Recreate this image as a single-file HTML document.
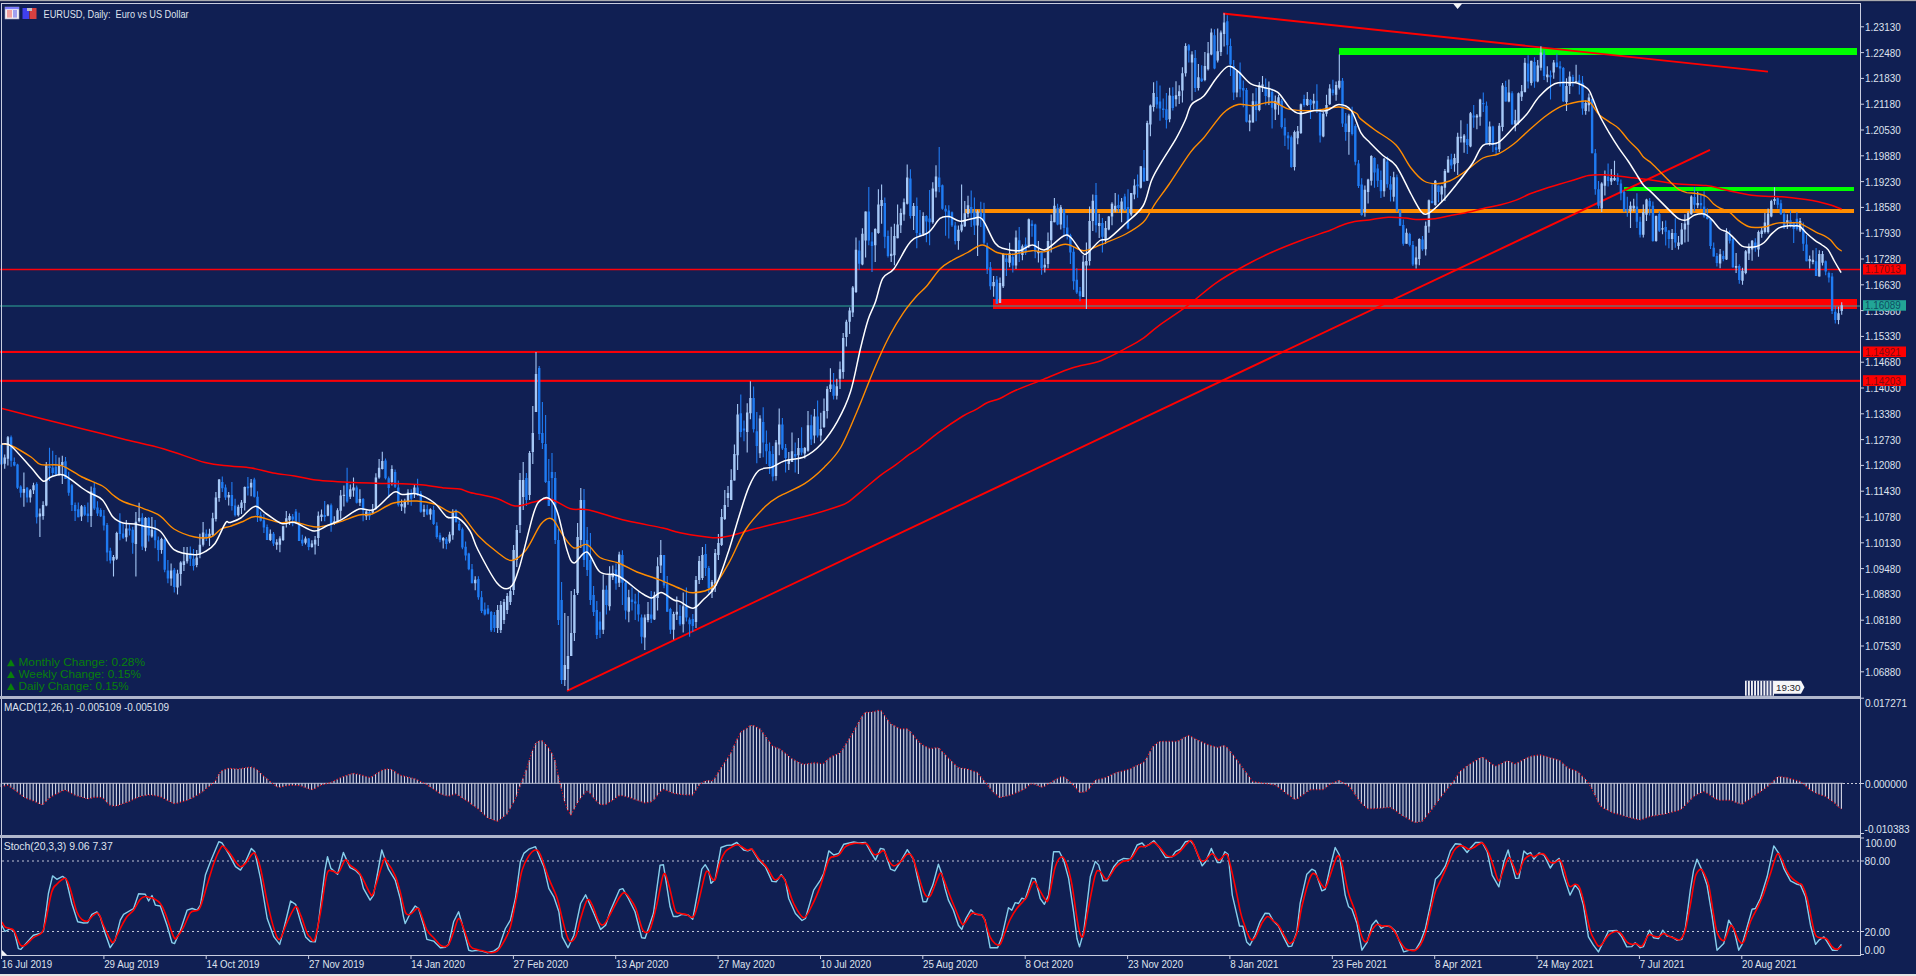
<!DOCTYPE html>
<html><head><meta charset="utf-8"><title>EURUSD, Daily</title>
<style>html,body{margin:0;padding:0;background:#101f53;overflow:hidden}svg{display:block}</style>
</head><body><svg width="1916" height="976" viewBox="0 0 1916 976"><rect width="1916" height="976" fill="#101f53"/><rect x="0" y="0" width="1916" height="1.4" fill="#a9aaae"/><rect x="0" y="1.4" width="1916" height="1.3" fill="#0c1845"/><rect x="0" y="974" width="1916" height="2" fill="#e4e4e4"/><rect x="0" y="268.75" width="1860" height="1.5" fill="#ff0008"/><rect x="0" y="350.9" width="1860" height="2.1" fill="#f80008"/><rect x="0" y="379.8" width="1860" height="2.1" fill="#f80008"/><g shape-rendering="crispEdges"><rect x="0" y="305" width="1860" height="2" fill="#1f6474"/><rect x="993" y="299.2" width="864" height="9.4" fill="#ff0000"/><rect x="993" y="305" width="864" height="2" fill="#9a5050"/><rect x="965" y="208.8" width="889" height="4" fill="#ff8c00"/><rect x="1339" y="48.2" width="518" height="6.4" fill="#00ff00"/><rect x="1624" y="186.6" width="230" height="4" fill="#00ff00"/></g><path d="M567 690.8L1710 149.8" stroke="#ff0000" stroke-width="1.9" fill="none"/><path d="M1223 13.5L1768 71.6" stroke="#ff0000" stroke-width="1.9" fill="none"/><path d="M1.5 443.5V464.4M11.1 435.5V466.8M14.3 457.6V466.2M17.5 463.7V489M20.7 485.3V497.6M27.1 487.1V502.5M36.7 482.2V523.4M49.5 447.8V481M52.7 450.8V476.7M55.9 455.1V475.4M65.5 457V479.1M68.7 471.7V495.7M71.9 484V511.1M75.1 502.5V520.9M78.3 502.5V517.3M84.7 505V516M87.9 502.5V522.2M94.3 482.8V509.9M97.5 501.3V516M100.7 508.3V516.9M103.9 510.1V530.4M107.1 523.1V561.2M110.3 547.7V563.6M119.9 513.2V540.3M123.1 523.7V539M129.5 524.3V535.4M132.7 526.7V553.8M142.3 513.2V550.1M148.7 516.9V541.5M155.1 520V548.3M158.3 536.6V561.2M164.7 538.4V572.3M167.9 560V583.3M174.3 567.9V592.5M190.3 546.4V566.1M193.5 548.9V570.4M206.3 529.4V541.1M222.3 476.5V491.9M225.5 484.5V499.9M231.9 482.1V510.4M235.1 498.7V516.5M247.9 477.1V495.6M254.3 477.8V497.4M257.5 491.3V522M260.7 511.6V521.4M263.9 514V533.1M267.1 524.5V539.9M273.5 531.9V546M292.7 514V526.3M295.9 509.1V523.9M299.1 512.7V540.9M302.3 534.8V545.9M308.7 537.9V550.2M324.7 501V521.3M331.1 503.4V531.7M347.1 467.8V502.8M356.7 485.6V503.4M363.1 497.9V521.3M369.5 510.8V520M385.5 458.5V479.4M388.7 476.4V497.9M395.1 469.6V488.1M398.3 480.5V506.6M411.2 489.2V505.7M417.6 478.7V496.1M420.8 490.9V512.7M427.2 504.8V515.3M433.6 505.7V524.9M436.8 522.3V538.8M440 532.7V542.3M446.4 537.1V549.3M456 509.2V522.3M459.2 520.5V531M462.4 527.5V549.3M465.6 541.4V560.6M468.8 552.8V570.2M472 564.1V583.2M478.4 576.3V599.8M481.6 591.1V612.9M484.8 602.4V615.5M488 605V614.6M491.2 611.1V632M494.4 612V632M526.4 473V506M539.2 366V440M542.4 402V449M545.6 415V483M548.8 459V506M552 453V520M555.2 472V544M558.4 529V625M561.6 582V684M584 489V567M587.2 527V576M590.4 533V605M593.6 586V616M596.8 601V639M600 611.8V638.1M606.4 585.5V614.6M616 563.4V589.7M622.4 550.3V604.9M625.6 581.4V619.4M632 587.6V610.4M635.2 593.8V620.1M638.4 591.8V621.5M641.6 614.6V643.6M651.2 591.1V622.9M664 555.1V588.3M667.2 575.9V611.8M670.4 607.7V633.9M680 604.9V625.7M686.4 587.6V621.5M689.6 617.4V636.7M692.8 614V632M705.6 544V576M708.8 566V593M740.8 394.6V437.2M744 420.6V441.2M753.6 386.6V432.6M756.8 411.9V463.2M763.2 407.3V457.2M766.4 430.6V463.9M769.6 442.6V473.9M772.8 445.9V481.2M782.4 417.9V449.9M785.6 443.9V472.5M795.2 442.6V472.5M801.6 427.3V455.2M811.2 414.7V445.1M817.6 400.5V437.5M833.6 373V399.5M859.2 240.6V269.8M868.8 186.9V245.2M872 232.2V272.1M884.8 197.6V248.3M888 230.6V257.5M910.4 169.2V218.4M916.8 197.6V248.3M920 209.9V236M926.4 215.3V242.2M929.6 189.9V245.2M939.2 147V192.3M942.4 184.4V209.7M945.6 205.3V235.8M948.8 205.3V238.4M952 211.4V227.1M955.2 221.9V244.5M971.2 190.5V227.1M974.4 197.5V234.9M980.8 201.8V227.1M984 202.7V244.5M987.2 242.8V274.1M990.4 262V289.8M996.8 275.9V303.8M1006.4 255V275.9M1012.8 253.2V272.4M1019.2 227.1V262M1025.6 237.6V255M1032 220.2V236.7M1035.2 223.8V258.2M1041.6 251V274.7M1057.6 203.7V225.2M1064 208.7V235.3M1067.2 215.2V239.6M1070.4 233.8V264M1073.6 246.7V289.8M1076.8 268.3V294.1M1080 286.9V301.3M1096 182.9V232.4M1102.4 218V252.5M1118.4 194.4V212.3M1124.8 193.7V210.9M1128 189.2V229.2M1137.6 174.6V197.7M1144 150V181.5M1156.8 80.8V108.5M1160 85.4V120.8M1163.2 98.5V117.7M1166.4 93.1V128.5M1172.8 87.2V110.5M1188.8 44V62.6M1195.2 49.9V91.9M1201.7 65.3V81.9M1214.5 29.3V69.3M1227.3 15.3V54.6M1230.5 38.6V75.9M1233.7 59.9V99.9M1240.1 62.6V97.2M1243.3 80.6V107.2M1246.5 87.9V122.5M1256.1 87.9V121.2M1265.7 78.6V105.2M1272.1 88.6V128.6M1281.7 99V128.6M1284.9 118.2V146M1288.1 132.1V149.5M1291.3 135.6V167.8M1304.1 94.7V106.8M1310.5 99V119M1316.9 84.2V112.9M1320.1 108.6V142.6M1332.9 79.8V95.5M1342.5 78.1V126.9M1345.7 112.9V140.8M1352.1 106.8V135.6M1355.3 124.3V165.2M1358.5 160V187.9M1361.7 178.3V215.7M1374.5 157.3V187.7M1377.7 164.2V187M1380.9 170.4V198.1M1387.3 156.6V187.7M1390.5 176V201.5M1396.9 174.6V211.9M1400.1 209.8V225.8M1403.3 219.5V245.8M1409.7 232.7V246.5M1412.9 241V265.9M1422.5 236.1V250.7M1432.1 184.3V203.6M1438.5 185.6V202.2M1451.3 153.8V169M1467.3 123.7V154.1M1473.7 105V127.8M1483.3 92.6V111.9M1486.5 101.5V143.7M1492.9 125.8V152M1496.1 142.4V154.8M1505.7 80.8V101.5M1512.1 91.2V124.4M1528.1 55.2V88.4M1534.5 57.3V87.7M1544.1 49.7V80.1M1550.5 70.4V99.5M1556.9 53.4V67.5M1560.1 61.3V86.6M1563.3 66.9V101.9M1572.9 74.8V86.6M1579.3 74.8V94.5M1582.5 75.9V114.8M1592.1 98.5V153.2M1595.3 149V194.7M1598.5 180.9V208.5M1608.1 163.6V186.4M1617.7 173.3V185M1620.9 179.5V200.2M1624.1 190.5V212M1627.3 196.8V216.8M1636.9 193.3V227.9M1640.1 216.8V237.6M1649.7 198.1V215.4M1652.9 201.6V241.7M1659.3 211.3V232M1665.7 220.6V245.4M1668.9 230.1V248.3M1675.3 218.3V247.7M1694.5 187.1V211.2M1700.9 194.1V208.9M1704.1 191.2V217.7M1707.3 208.3V219.5M1710.5 218.3V248.9M1713.7 242.4V256.6M1716.9 253V266.6M1723.3 250.7V261.3M1729.7 230.6V243.6M1732.9 237.7V267.8M1739.3 264.2V283.7M1755.3 238.3V251.8M1777.7 197.5V208.5M1780.9 199.7V215.1M1784.1 211.4V229M1790.5 210.7V227.5M1793.7 221.7V242.9M1796.9 212.1V230.5M1803.3 222.4V251M1806.5 234.9V261.2M1816.1 248V275.9M1825.7 260.5V275.2M1828.9 271.5V282.5M1832.1 273V314M1835.3 306V323.6" stroke="#1f7bf2" stroke-width="1.1" fill="none"/><path d="M4.7 454.5V468.7M7.9 436.1V465.6M23.9 472.4V506.8M30.3 489V502.5M33.5 482.8V493.9M39.9 508.6V536.9M43.1 501.3V519.7M46.3 461.9V506.2M59.1 457.6V475.4M62.3 455.8V484M81.5 505V520.9M91.1 486.5V527.1M113.5 555V576.6M116.7 531.7V560M126.3 520V541.5M135.9 512V576.6M139.1 502.8V522.4M145.5 516.9V551.3M151.9 516.9V537.8M161.5 537.8V553.8M171.1 563.6V585.8M177.5 569.8V594.4M180.7 561.2V585.8M183.9 547V571M187.1 547V563.6M196.7 550.1V567.3M199.9 533.7V558.3M203.1 522V546.6M209.5 528.8V546M212.7 512.8V536.2M215.9 491.9V521.4M219.1 479V501.7M228.7 491.9V505.4M238.3 504.8V516.5M241.5 499.9V514M244.7 486.4V510.4M251.1 479V496.2M270.3 529.4V541.1M276.7 539.3V549.7M279.9 536.2V552.2M283.1 525.7V541.1M286.3 511V527.6M289.5 513.4V525.1M305.5 536.6V544.6M311.9 540.3V547.7M315.1 536V554.5M318.3 511.4V545.9M321.5 509.6V521.3M327.9 504V516.3M334.3 516.3V525M337.5 508.3V522.5M340.7 489.9V518.8M343.9 485.6V506.5M350.3 484.4V499.1M353.5 477.6V496.7M359.9 489.3V505.9M366.3 510.2V520M372.7 504V513.9M375.9 473.3V509.6M379.1 459.1V478.8M382.3 451.8V469.6M391.9 465.3V485.6M401.6 499.6V510.9M404.8 498.7V513.6M408 489.2V504.8M414.4 483.9V497.9M424 504.8V517M430.4 508.3V519.7M443.2 537.1V548.4M449.6 531.8V543.2M452.8 509.2V539.7M475.2 576.3V590.2M497.6 605V633M500.8 601V633M504 599V624M507.2 593V614M510.4 588V605M513.6 545V595M516.8 525V567M520 473V533M523.2 462V510M529.6 451V500M532.8 406V464M536 352V412M564.8 613V686M568 616V690M571.2 591V656M574.4 589V641M577.6 523V595M580.8 488V548M603.2 574.5V633.9M609.6 566.2V610.4M612.8 565.5V580M619.2 551.7V586.9M628.8 589.7V622.2M644.8 614.6V650M648 602.1V622.2M654.4 591.8V620.1M657.6 557.2V610.4M660.8 539.9V573.1M673.6 611.8V639.5M676.8 596.6V620.1M683.2 592.5V632.6M696 576V628M699.2 556V584M702.4 547V580M712 580V598M715.2 549V592M718.4 534V560M721.6 509V546M724.8 490V520M728 486V507M731.2 469.2V500M734.4 444.6V480.5M737.6 404V469.9M747.2 403.3V452.6M750.4 381.3V419.3M760 415.3V457.9M776 439.9V480.5M779.2 408.6V455.2M788.8 451.9V469.9M792 432.6V461.9M798.4 437.9V473.9M804.8 447V458.4M808 410.9V451.7M814.4 409V443.2M820.8 412.8V441.3M824 398.6V428M827.2 386.3V418.5M830.4 368.2V392M836.8 378.7V399.5M840 361.6V389.1M843.2 333.1V378.7M846.4 319.8V346.4M849.6 307.5V334.1M852.8 285.9V317M856 237.6V292.9M862.4 228.3V265.2M865.6 211.4V257.5M875.2 228.3V262.1M878.4 189.2V233.7M881.6 184.6V223.7M891.2 226.8V262.1M894.4 223.7V265.2M897.6 204.5V238.3M900.8 208.4V232.9M904 198.4V220.7M907.2 164.6V204.5M913.6 203V229.9M923.2 212.2V236M932.8 182.3V223.7M936 165.3V197.5M958.4 225.4V249.8M961.6 184.4V232.3M964.8 201V227.1M968 195.7V217.5M977.6 209.7V255.9M993.6 275.9V296.8M1000 277.6V302.9M1003.2 253.2V288.1M1009.6 242.8V267.2M1016 230.6V268.9M1022.4 244.5V260.2M1028.8 218.4V248M1038.4 241V262.5M1044.8 258.2V272.6M1048 232.4V268.3M1051.2 214.5V252.5M1054.4 198V222.3M1060.8 205.1V229.5M1083.2 255.3V297M1086.4 242.4V309.1M1089.6 206.6V265.4M1092.8 194.4V231M1099.2 213.7V238.1M1105.6 220.9V243.9M1108.8 215.9V230.2M1112 202.3V225.2M1115.2 192.9V212.3M1121.6 198V222.3M1131.2 193.1V216.2M1134.4 179.2V199.2M1140.8 166.2V188.5M1147.2 120.8V180.8M1150.4 104.6V136.2M1153.6 82.3V111.5M1169.6 87.7V122.3M1176 81.2V106.5M1179.2 85.2V103.9M1182.4 67.3V102.5M1185.6 43.3V76.6M1192 51.3V100.5M1198.4 63.9V90.6M1204.9 51.9V81.2M1208.1 42V70.6M1211.3 28.6V55.3M1217.7 28.6V62.6M1220.9 30.6V55.9M1224.1 13.3V46.6M1236.9 69.9V97.2M1249.7 114.5V131.2M1252.9 93.2V122.5M1259.3 81.9V111.2M1262.5 75.9V91.9M1268.9 81.6V105.1M1275.3 95.5V119.9M1278.5 94.7V114.7M1294.5 130.4V170.4M1297.7 126V144.3M1300.9 103.4V133.9M1307.3 92V106M1313.7 93.8V109.5M1323.3 112.1V137.3M1326.5 94.7V116.4M1329.7 84.2V105.1M1336.1 81.6V100.7M1339.3 54.6V89.4M1348.9 113.8V154.8M1364.9 185.6V216.8M1368.1 178.7V203.6M1371.3 155.2V185.6M1384.1 158V196.7M1393.7 171.8V201.5M1406.5 228.5V243.7M1416.1 246.5V268.6M1419.3 238.2V265.2M1425.7 221.6V255.5M1428.9 199.5V232.7M1435.3 180.1V205.7M1441.7 185.6V202.2M1444.9 169V200.9M1448.1 155.9V172.5M1454.5 153.8V171.8M1457.7 132.7V175M1460.9 120.2V142.4M1464.1 134.1V152.7M1470.5 111.9V147.2M1476.9 114V129.2M1480.1 98.8V125.8M1489.7 121.6V145.8M1499.3 123V152M1502.5 82.9V131.3M1508.9 79.4V102.2M1515.3 109.8V131.3M1518.5 92.6V124.4M1521.7 85V100.9M1524.9 58V92.6M1531.3 60.7V85.6M1537.7 60.1V82.2M1540.9 46.2V70.4M1547.3 66.3V82.2M1553.7 60.1V78.7M1566.5 78.2V110.9M1569.7 71.4V94M1576.1 64.7V82.1M1585.7 100.2V114.8M1588.9 93.4V111.4M1601.7 182.2V212M1604.9 170.5V195.4M1611.3 169.1V185M1614.5 160.8V180.9M1630.5 201.6V227.9M1633.7 198.8V211.3M1643.3 204.4V237.6M1646.5 198.8V221M1656.1 215.4V241.7M1662.5 221.2V234.2M1672.1 228.9V250.1M1678.5 235.9V249.5M1681.7 223V244.8M1684.9 214.2V242.4M1688.1 211.2V241.8M1691.3 195.3V214.7M1697.7 191.8V208.3M1720.1 248.9V268.3M1726.5 228.3V260.1M1736.1 253V273.1M1742.5 267.8V284.8M1745.7 250.1V274.2M1748.9 243.6V260.1M1752.1 240.1V260.7M1758.5 230.5V256.8M1761.7 227.5V237.8M1764.9 212.9V233.4M1768.1 208.5V233.4M1771.3 199.7V217.3M1774.5 187.2V204.8M1787.3 214.3V229M1800.1 218V231.9M1809.7 255.4V268.6M1812.9 250.2V264.2M1819.3 250.2V276.6M1822.5 251V265.6M1838.5 306.7V324.3M1841.7 302.3V314.8" stroke="#a6c8f6" stroke-width="1.1" fill="none"/><path d="M0.3 444.7h2.4V464.4h-2.4zM9.9 437.3h2.4V460.7h-2.4zM13.1 461.9h2.4V465.6h-2.4zM16.3 464.4h2.4V487.7h-2.4zM19.5 486.5h2.4V492.7h-2.4zM25.9 487.7h2.4V497.6h-2.4zM35.5 484h2.4V517.3h-2.4zM48.3 466.2h2.4V468.1h-2.4zM51.5 467.4h2.4V473h-2.4zM54.7 466.8h2.4V474.2h-2.4zM64.3 461.3h2.4V479.1h-2.4zM67.5 477.9h2.4V492.7h-2.4zM70.7 485.3h2.4V505h-2.4zM73.9 505h2.4V511.1h-2.4zM77.1 509.3h2.4V517.3h-2.4zM83.5 506.8h2.4V514.8h-2.4zM86.7 513.6h2.4V516h-2.4zM93.1 487.7h2.4V508.6h-2.4zM96.3 507.4h2.4V513.6h-2.4zM99.5 510.1h2.4V516.3h-2.4zM102.7 515.7h2.4V525.5h-2.4zM105.9 524.9h2.4V552.6h-2.4zM109.1 550.7h2.4V560.6h-2.4zM118.7 521.8h2.4V534.1h-2.4zM121.9 533.5h2.4V537.8h-2.4zM128.3 528.6h2.4V530.4h-2.4zM131.5 529.8h2.4V542.7h-2.4zM141.1 517.5h2.4V546.4h-2.4zM147.5 518.1h2.4V535.4h-2.4zM153.9 530.4h2.4V540.3h-2.4zM157.1 540.3h2.4V550.1h-2.4zM163.5 539.7h2.4V569.8h-2.4zM166.7 570.4h2.4V578.4h-2.4zM173.1 569.8h2.4V587h-2.4zM189.1 553.8h2.4V558.7h-2.4zM192.3 558.7h2.4V566.1h-2.4zM205.1 533.7h2.4V537.4h-2.4zM221.1 482.1h2.4V488.2h-2.4zM224.3 487.6h2.4V497.4h-2.4zM230.7 495h2.4V506h-2.4zM233.9 505.4h2.4V515.3h-2.4zM246.7 486.4h2.4V488.2h-2.4zM253.1 479.6h2.4V496.8h-2.4zM256.3 496.8h2.4V515.3h-2.4zM259.5 515.3h2.4V520.8h-2.4zM262.7 520.2h2.4V527.6h-2.4zM265.9 527h2.4V539.9h-2.4zM272.3 533.7h2.4V543.6h-2.4zM291.5 516.5h2.4V519.6h-2.4zM294.7 511.6h2.4V522.7h-2.4zM297.9 525h2.4V540.9h-2.4zM301.1 539.7h2.4V543.4h-2.4zM307.5 538.5h2.4V547.1h-2.4zM323.5 515.1h2.4V517h-2.4zM329.9 505.3h2.4V523.7h-2.4zM345.9 481.9h2.4V501.6h-2.4zM355.5 487.4h2.4V502.8h-2.4zM361.9 499.1h2.4V510.2h-2.4zM368.3 512h2.4V516.3h-2.4zM384.3 460.4h2.4V478.2h-2.4zM387.5 478.2h2.4V488.1h-2.4zM393.9 472.1h2.4V486.8h-2.4zM397.1 487.4h2.4V504.8h-2.4zM410 493.5h2.4V498.7h-2.4zM416.4 487.4h2.4V494.4h-2.4zM419.6 493.5h2.4V511.8h-2.4zM426 509.2h2.4V514.4h-2.4zM432.4 510.1h2.4V524h-2.4zM435.6 525.7h2.4V537.1h-2.4zM438.8 535.3h2.4V539.7h-2.4zM445.2 538.8h2.4V544h-2.4zM454.8 510.1h2.4V522.3h-2.4zM458 524h2.4V530.1h-2.4zM461.2 529.2h2.4V547.5h-2.4zM464.4 546.7h2.4V555.4h-2.4zM467.6 553.6h2.4V569.3h-2.4zM470.8 569.3h2.4V583.2h-2.4zM477.2 578.9h2.4V597.2h-2.4zM480.4 597.2h2.4V611.1h-2.4zM483.6 609.4h2.4V614.6h-2.4zM486.8 608.5h2.4V613.7h-2.4zM490 612h2.4V630.3h-2.4zM493.2 615h2.4V628h-2.4zM525.2 478h2.4V500h-2.4zM538 368h2.4V434h-2.4zM541.2 433h2.4V443h-2.4zM544.4 444h2.4V482h-2.4zM547.6 481h2.4V506h-2.4zM550.8 472h2.4V478h-2.4zM554 478h2.4V540h-2.4zM557.2 540h2.4V620h-2.4zM560.4 600h2.4V680h-2.4zM582.8 500h2.4V560h-2.4zM586 540h2.4V570h-2.4zM589.2 560h2.4V600h-2.4zM592.4 595h2.4V612h-2.4zM595.6 610h2.4V635h-2.4zM598.8 621.5h2.4V629.8h-2.4zM605.2 589.7h2.4V604.9h-2.4zM614.8 569.6h2.4V583.5h-2.4zM621.2 555.1h2.4V582.8h-2.4zM624.4 582.8h2.4V610.4h-2.4zM630.8 599.4h2.4V602.1h-2.4zM634 601.4h2.4V603.5h-2.4zM637.2 604.2h2.4V614.6h-2.4zM640.4 617.4h2.4V636.7h-2.4zM650 614.6h2.4V618.7h-2.4zM662.8 555.1h2.4V585.5h-2.4zM666 584.2h2.4V611.8h-2.4zM669.2 609.1h2.4V629.8h-2.4zM678.8 616h2.4V624.3h-2.4zM685.2 606.3h2.4V617.4h-2.4zM688.4 619.4h2.4V624.3h-2.4zM691.6 619h2.4V626h-2.4zM704.4 554h2.4V568h-2.4zM707.6 568h2.4V588h-2.4zM739.6 413.3h2.4V431.9h-2.4zM742.8 428.6h2.4V430.6h-2.4zM752.4 398h2.4V429.3h-2.4zM755.6 431.3h2.4V445.9h-2.4zM762 421.9h2.4V442.6h-2.4zM765.2 443.9h2.4V451.2h-2.4zM768.4 451.2h2.4V465.9h-2.4zM771.6 453.9h2.4V476.5h-2.4zM781.2 424.6h2.4V448.6h-2.4zM784.4 447.9h2.4V457.9h-2.4zM794 453.9h2.4V456.6h-2.4zM800.4 447.9h2.4V452.6h-2.4zM810 425.2h2.4V439.4h-2.4zM816.4 416.6h2.4V435.6h-2.4zM832.4 384.4h2.4V395.7h-2.4zM858 250.6h2.4V263.7h-2.4zM867.6 211.4h2.4V240.6h-2.4zM870.8 241.4h2.4V246h-2.4zM883.6 203h2.4V236.8h-2.4zM886.8 236h2.4V256h-2.4zM909.2 178.4h2.4V216.1h-2.4zM915.6 206.1h2.4V232.9h-2.4zM918.8 232.9h2.4V235.3h-2.4zM925.2 216.1h2.4V221.4h-2.4zM928.4 218.4h2.4V222.2h-2.4zM938 177.5h2.4V187h-2.4zM941.2 185.3h2.4V208.8h-2.4zM944.4 208.8h2.4V211.4h-2.4zM947.6 210.6h2.4V217.5h-2.4zM950.8 212.3h2.4V225.4h-2.4zM954 225.4h2.4V241h-2.4zM970 207.1h2.4V213.2h-2.4zM973.2 211.4h2.4V225.4h-2.4zM979.6 212.3h2.4V216.7h-2.4zM982.8 213.2h2.4V242.8h-2.4zM986 246.3h2.4V268.9h-2.4zM989.2 267.2h2.4V286.3h-2.4zM995.6 279.4h2.4V303.8h-2.4zM1005.2 258.5h2.4V262h-2.4zM1011.6 256.7h2.4V265.4h-2.4zM1018 240.2h2.4V253.2h-2.4zM1024.4 244.5h2.4V252.4h-2.4zM1030.8 223.8h2.4V225.9h-2.4zM1034 224.5h2.4V251.8h-2.4zM1040.4 251.8h2.4V268.3h-2.4zM1056.4 208h2.4V224.5h-2.4zM1062.8 209.4h2.4V228.1h-2.4zM1066 227.4h2.4V235.3h-2.4zM1069.2 235.3h2.4V252.5h-2.4zM1072.4 251.8h2.4V281.2h-2.4zM1075.6 279.7h2.4V292.6h-2.4zM1078.8 291.2h2.4V296.2h-2.4zM1094.8 195.1h2.4V225.2h-2.4zM1101.2 223.1h2.4V236.7h-2.4zM1117.2 205.1h2.4V208h-2.4zM1123.6 196.5h2.4V210.2h-2.4zM1126.8 206.9h2.4V228.5h-2.4zM1136.4 184.6h2.4V186.2h-2.4zM1142.8 167.7h2.4V181.5h-2.4zM1155.6 96.9h2.4V104.6h-2.4zM1158.8 101.5h2.4V108.5h-2.4zM1162 108.5h2.4V110h-2.4zM1165.2 109.2h2.4V120h-2.4zM1171.6 95.9h2.4V107.9h-2.4zM1187.6 45.3h2.4V50.6h-2.4zM1194 57.9h2.4V87.9h-2.4zM1200.5 78.6h2.4V81.2h-2.4zM1213.3 35.3h2.4V68.6h-2.4zM1226.1 21.3h2.4V45.3h-2.4zM1229.3 45.9h2.4V64.6h-2.4zM1232.5 65.9h2.4V92.6h-2.4zM1238.9 72.6h2.4V89.2h-2.4zM1242.1 87.9h2.4V90.6h-2.4zM1245.3 89.9h2.4V121.8h-2.4zM1254.9 101.2h2.4V109.9h-2.4zM1264.5 87.9h2.4V95.9h-2.4zM1270.9 92h2.4V107.7h-2.4zM1280.5 100.7h2.4V126.9h-2.4zM1283.7 126.9h2.4V135.6h-2.4zM1286.9 135.6h2.4V138.2h-2.4zM1290.1 137.3h2.4V167h-2.4zM1302.9 99h2.4V105.1h-2.4zM1309.3 99.9h2.4V105.1h-2.4zM1315.7 100.7h2.4V109.5h-2.4zM1318.9 112.9h2.4V135.6h-2.4zM1331.7 89.4h2.4V92.9h-2.4zM1341.3 80.7h2.4V123.4h-2.4zM1344.5 123.4h2.4V132.1h-2.4zM1350.9 112.9h2.4V133.9h-2.4zM1354.1 126h2.4V161.7h-2.4zM1357.3 163.5h2.4V186.1h-2.4zM1360.5 184.4h2.4V214.9h-2.4zM1373.3 158h2.4V172.5h-2.4zM1376.5 168.4h2.4V180.8h-2.4zM1379.7 180.1h2.4V191.2h-2.4zM1386.1 161.4h2.4V184.3h-2.4zM1389.3 184.3h2.4V189.8h-2.4zM1395.7 177.3h2.4V210.5h-2.4zM1398.9 210.5h2.4V225.8h-2.4zM1402.1 225.1h2.4V243.7h-2.4zM1408.5 234.1h2.4V245.1h-2.4zM1411.7 245.1h2.4V264.5h-2.4zM1421.3 239.6h2.4V249.3h-2.4zM1430.9 200.9h2.4V202.9h-2.4zM1437.3 185.6h2.4V191.9h-2.4zM1450.1 159.4h2.4V165.6h-2.4zM1466.1 138.9h2.4V145.1h-2.4zM1472.5 115.4h2.4V117.5h-2.4zM1482.1 102.9h2.4V104.3h-2.4zM1485.3 105.7h2.4V143.7h-2.4zM1491.7 126.4h2.4V145.1h-2.4zM1494.9 147.2h2.4V150h-2.4zM1504.5 87h2.4V101.5h-2.4zM1510.9 93.3h2.4V124.4h-2.4zM1526.9 63.5h2.4V81.5h-2.4zM1533.3 62.1h2.4V81.5h-2.4zM1542.9 53.8h2.4V76h-2.4zM1549.3 75.3h2.4V77.3h-2.4zM1555.7 62.4h2.4V66.9h-2.4zM1558.9 66.3h2.4V68.6h-2.4zM1562.1 68h2.4V101.3h-2.4zM1571.7 77.1h2.4V81h-2.4zM1578.1 80.4h2.4V82.7h-2.4zM1581.3 82.7h2.4V108.6h-2.4zM1590.9 99h2.4V153.2h-2.4zM1594.1 153.2h2.4V189.2h-2.4zM1597.3 189.2h2.4V205.8h-2.4zM1606.9 176.7h2.4V180.9h-2.4zM1616.5 177.4h2.4V181.5h-2.4zM1619.7 183.6h2.4V193.3h-2.4zM1622.9 191.9h2.4V211.3h-2.4zM1626.1 209.2h2.4V211.3h-2.4zM1635.7 206.4h2.4V221.7h-2.4zM1638.9 221.7h2.4V234.8h-2.4zM1648.5 200.9h2.4V206.4h-2.4zM1651.7 205.8h2.4V241h-2.4zM1658.1 214.1h2.4V230.7h-2.4zM1664.5 227.1h2.4V231.8h-2.4zM1667.7 230.6h2.4V238.9h-2.4zM1674.1 233h2.4V242.4h-2.4zM1693.3 197.1h2.4V204.7h-2.4zM1699.7 203h2.4V205.3h-2.4zM1702.9 206.5h2.4V216.5h-2.4zM1706.1 216.5h2.4V218.9h-2.4zM1709.3 218.9h2.4V246h-2.4zM1712.5 247.7h2.4V256.6h-2.4zM1715.7 256h2.4V263h-2.4zM1722.1 256h2.4V258.9h-2.4zM1728.5 234.2h2.4V240.7h-2.4zM1731.7 238.9h2.4V267.2h-2.4zM1738.1 266h2.4V280.1h-2.4zM1754.1 242.4h2.4V248.3h-2.4zM1776.5 198.2h2.4V204.8h-2.4zM1779.7 203.3h2.4V214.3h-2.4zM1782.9 214.3h2.4V227.5h-2.4zM1789.3 220.2h2.4V226.1h-2.4zM1792.5 222.4h2.4V229h-2.4zM1795.7 218.7h2.4V229h-2.4zM1802.1 229h2.4V243.7h-2.4zM1805.3 244.4h2.4V261.2h-2.4zM1814.9 261.2h2.4V275.9h-2.4zM1824.5 261.2h2.4V271.5h-2.4zM1827.7 273h2.4V277.4h-2.4zM1830.9 276.6h2.4V311.1h-2.4zM1834.1 311.8h2.4V319.9h-2.4z" fill="#1f7bf2"/><path d="M3.5 457.6h2.4V463.7h-2.4zM6.7 437.3h2.4V458.8h-2.4zM22.7 489h2.4V492.7h-2.4zM29.1 490.2h2.4V497.6h-2.4zM32.3 485.3h2.4V490.2h-2.4zM38.7 513.6h2.4V516.6h-2.4zM41.9 505h2.4V516h-2.4zM45.1 465.6h2.4V505.6h-2.4zM57.9 465.6h2.4V474.2h-2.4zM61.1 461.9h2.4V465.6h-2.4zM80.3 506.2h2.4V516.6h-2.4zM89.9 491.4h2.4V516h-2.4zM112.3 556.9h2.4V560.6h-2.4zM115.5 532.9h2.4V558.7h-2.4zM125.1 528.6h2.4V537.2h-2.4zM134.7 521.8h2.4V544h-2.4zM137.9 518.1h2.4V521.2h-2.4zM144.3 518.1h2.4V547.7h-2.4zM150.7 529.8h2.4V536.6h-2.4zM160.3 539h2.4V550.1h-2.4zM169.9 570.4h2.4V578.4h-2.4zM176.3 573.5h2.4V587.6h-2.4zM179.5 562.4h2.4V574.1h-2.4zM182.7 561.2h2.4V564.9h-2.4zM185.9 553.8h2.4V561.2h-2.4zM195.5 557.5h2.4V564.9h-2.4zM198.7 544.8h2.4V554.6h-2.4zM201.9 532.5h2.4V544.8h-2.4zM208.3 533.7h2.4V537.4h-2.4zM211.5 518.3h2.4V535h-2.4zM214.7 497.4h2.4V519h-2.4zM217.9 479.6h2.4V498.1h-2.4zM227.5 495h2.4V497.4h-2.4zM237.1 506.7h2.4V515.3h-2.4zM240.3 502.4h2.4V507.9h-2.4zM243.5 487h2.4V503h-2.4zM249.9 482.7h2.4V487.6h-2.4zM269.1 533.7h2.4V539.9h-2.4zM275.5 542.3h2.4V544.8h-2.4zM278.7 538.6h2.4V544.8h-2.4zM281.9 526.3h2.4V539.9h-2.4zM285.1 518.3h2.4V522h-2.4zM288.3 515.9h2.4V520.2h-2.4zM304.3 538.5h2.4V542.8h-2.4zM310.7 543.4h2.4V547.1h-2.4zM313.9 539.7h2.4V544.6h-2.4zM317.1 515.7h2.4V537.9h-2.4zM320.3 514.5h2.4V517h-2.4zM326.7 505.3h2.4V515.7h-2.4zM333.1 521.3h2.4V523.7h-2.4zM336.3 510.2h2.4V521.9h-2.4zM339.5 495.4h2.4V510.8h-2.4zM342.7 494.8h2.4V496h-2.4zM349.1 489.3h2.4V496.7h-2.4zM352.3 487.4h2.4V490.5h-2.4zM358.7 499.1h2.4V502.8h-2.4zM365.1 511.4h2.4V516.3h-2.4zM371.5 509h2.4V512.7h-2.4zM374.7 477.6h2.4V509h-2.4zM377.9 467.8h2.4V477.6h-2.4zM381.1 461h2.4V469h-2.4zM390.7 469h2.4V481.9h-2.4zM400.4 504h2.4V506.6h-2.4zM403.6 501.4h2.4V507.5h-2.4zM406.8 492.6h2.4V501.4h-2.4zM413.2 487.4h2.4V493.5h-2.4zM422.8 509.2h2.4V511.8h-2.4zM429.2 509.2h2.4V514.4h-2.4zM442 537.9h2.4V540.6h-2.4zM448.4 534.5h2.4V541.4h-2.4zM451.6 512.7h2.4V535.3h-2.4zM474 579.8h2.4V583.2h-2.4zM496.4 610h2.4V628h-2.4zM499.6 605h2.4V630h-2.4zM502.8 602h2.4V620h-2.4zM506 596h2.4V610h-2.4zM509.2 591h2.4V602h-2.4zM512.4 550h2.4V590h-2.4zM515.6 530h2.4V560h-2.4zM518.8 480h2.4V525h-2.4zM522 480h2.4V497h-2.4zM528.4 453h2.4V495h-2.4zM531.6 433h2.4V452h-2.4zM534.8 374h2.4V412h-2.4zM563.6 665h2.4V680h-2.4zM566.8 656h2.4V669h-2.4zM570 633h2.4V656h-2.4zM573.2 595h2.4V633h-2.4zM576.4 537h2.4V593h-2.4zM579.6 500h2.4V540h-2.4zM602 589.7h2.4V629.8h-2.4zM608.4 574.5h2.4V606.3h-2.4zM611.6 573.1h2.4V577.2h-2.4zM618 554.4h2.4V582.8h-2.4zM627.6 597.3h2.4V611.8h-2.4zM643.6 617.4h2.4V637.4h-2.4zM646.8 613.9h2.4V620.1h-2.4zM653.2 595.2h2.4V619.4h-2.4zM656.4 566.2h2.4V598h-2.4zM659.6 555.1h2.4V565.5h-2.4zM672.4 613.9h2.4V629.8h-2.4zM675.6 611.8h2.4V614.6h-2.4zM682 606.3h2.4V624.3h-2.4zM694.8 580h2.4V622h-2.4zM698 561h2.4V580h-2.4zM701.2 555h2.4V578h-2.4zM710.8 582h2.4V592h-2.4zM714 553h2.4V586h-2.4zM717.2 543h2.4V555h-2.4zM720.4 517h2.4V545h-2.4zM723.6 505h2.4V519h-2.4zM726.8 493h2.4V498h-2.4zM730 479.9h2.4V500h-2.4zM733.2 453.9h2.4V480.5h-2.4zM736.4 414.6h2.4V455.2h-2.4zM746 412.6h2.4V431.9h-2.4zM749.2 398h2.4V413.3h-2.4zM758.8 418.6h2.4V453.2h-2.4zM774.8 442.6h2.4V475.9h-2.4zM778 424.6h2.4V444.6h-2.4zM787.6 459.2h2.4V463.9h-2.4zM790.8 451.2h2.4V461.9h-2.4zM797.2 447.9h2.4V455.2h-2.4zM803.6 447.9h2.4V453.6h-2.4zM806.8 425.2h2.4V450.8h-2.4zM813.2 416.6h2.4V435.6h-2.4zM819.6 429h2.4V435.6h-2.4zM822.8 410.9h2.4V427.1h-2.4zM826 389.1h2.4V410.9h-2.4zM829.2 384.4h2.4V389.1h-2.4zM835.6 386.3h2.4V395.7h-2.4zM838.8 369.2h2.4V378.7h-2.4zM842 337.9h2.4V372h-2.4zM845.2 321.7h2.4V336.9h-2.4zM848.4 310.4h2.4V321.7h-2.4zM851.6 287.6h2.4V312.4h-2.4zM854.8 249.8h2.4V292.1h-2.4zM861.2 233.7h2.4V264.4h-2.4zM864.4 211.4h2.4V240.6h-2.4zM874 229.1h2.4V245.2h-2.4zM877.2 204.5h2.4V232.9h-2.4zM880.4 199.9h2.4V206.1h-2.4zM890 253.7h2.4V256h-2.4zM893.2 236h2.4V255.2h-2.4zM896.4 224.5h2.4V238.3h-2.4zM899.6 213h2.4V225.3h-2.4zM902.8 202.2h2.4V214.5h-2.4zM906 177.6h2.4V203.8h-2.4zM912.4 206.1h2.4V216.1h-2.4zM922 216.1h2.4V233.7h-2.4zM931.6 188.4h2.4V222.2h-2.4zM934.8 176.6h2.4V191.4h-2.4zM957.2 229.7h2.4V241h-2.4zM960.4 224.5h2.4V230.6h-2.4zM963.6 213.2h2.4V226.2h-2.4zM966.8 205.3h2.4V214h-2.4zM976.4 211.4h2.4V225.4h-2.4zM992.4 282h2.4V286.3h-2.4zM998.8 282.9h2.4V302.9h-2.4zM1002 254.1h2.4V286.3h-2.4zM1008.4 253.2h2.4V262.8h-2.4zM1014.8 237.6h2.4V265.4h-2.4zM1021.2 246.3h2.4V255h-2.4zM1027.6 219.3h2.4V246.3h-2.4zM1037.2 251h2.4V253.2h-2.4zM1043.6 264.7h2.4V267.5h-2.4zM1046.8 241h2.4V264h-2.4zM1050 220.9h2.4V240.3h-2.4zM1053.2 205.8h2.4V222.3h-2.4zM1059.6 207.3h2.4V224.5h-2.4zM1082 261.8h2.4V297h-2.4zM1085.2 261.1h2.4V265.4h-2.4zM1088.4 220.9h2.4V261.1h-2.4zM1091.6 200.8h2.4V220.9h-2.4zM1098 223.1h2.4V225.9h-2.4zM1104.4 228.1h2.4V240.3h-2.4zM1107.6 216.6h2.4V229.5h-2.4zM1110.8 203.7h2.4V216.6h-2.4zM1114 205.8h2.4V210.2h-2.4zM1120.4 201.5h2.4V209.4h-2.4zM1130 193.1h2.4V214.6h-2.4zM1133.2 185.4h2.4V194.6h-2.4zM1139.6 166.2h2.4V187.7h-2.4zM1146 123.1h2.4V180.8h-2.4zM1149.2 105.4h2.4V124.6h-2.4zM1152.4 93.1h2.4V106.9h-2.4zM1168.4 95.4h2.4V119.2h-2.4zM1174.8 95.2h2.4V99.2h-2.4zM1178 91.2h2.4V95.9h-2.4zM1181.2 73.2h2.4V90.6h-2.4zM1184.4 45.9h2.4V73.2h-2.4zM1190.8 54.6h2.4V62.6h-2.4zM1197.2 77.2h2.4V87.9h-2.4zM1203.7 65.9h2.4V79.9h-2.4zM1206.9 53.3h2.4V69.3h-2.4zM1210.1 32.6h2.4V54.6h-2.4zM1216.5 51.3h2.4V60.6h-2.4zM1219.7 32.6h2.4V51.9h-2.4zM1222.9 22.6h2.4V34h-2.4zM1235.7 70.6h2.4V92.6h-2.4zM1248.5 120.5h2.4V122.5h-2.4zM1251.7 101.2h2.4V122.5h-2.4zM1258.1 85.2h2.4V109.9h-2.4zM1261.3 84.6h2.4V86.6h-2.4zM1267.7 88.6h2.4V97.3h-2.4zM1274.1 100.7h2.4V109.5h-2.4zM1277.3 97.3h2.4V105.1h-2.4zM1293.3 132.1h2.4V167h-2.4zM1296.5 131.2h2.4V138.2h-2.4zM1299.7 104.2h2.4V133h-2.4zM1306.1 99h2.4V105.1h-2.4zM1312.5 100.7h2.4V103.4h-2.4zM1322.1 113.8h2.4V136.5h-2.4zM1325.3 105.1h2.4V113.8h-2.4zM1328.5 88.6h2.4V104.2h-2.4zM1334.9 85.1h2.4V94.7h-2.4zM1338.1 80.7h2.4V87.7h-2.4zM1347.7 115.6h2.4V132.1h-2.4zM1363.7 189.8h2.4V211.9h-2.4zM1366.9 179.4h2.4V191.9h-2.4zM1370.1 155.9h2.4V180.8h-2.4zM1382.9 158.7h2.4V191.2h-2.4zM1392.5 177.3h2.4V196.7h-2.4zM1405.3 232.7h2.4V243.7h-2.4zM1414.9 257.6h2.4V264.5h-2.4zM1418.1 238.9h2.4V258.9h-2.4zM1424.5 225.8h2.4V249.3h-2.4zM1427.7 200.2h2.4V226.4h-2.4zM1434.1 180.8h2.4V205h-2.4zM1440.5 186.3h2.4V194.6h-2.4zM1443.7 171.1h2.4V187.7h-2.4zM1446.9 159.4h2.4V172.5h-2.4zM1453.3 158h2.4V164.2h-2.4zM1456.5 136.8h2.4V163.1h-2.4zM1459.7 136.8h2.4V138.2h-2.4zM1462.9 135.4h2.4V142.4h-2.4zM1469.3 113.3h2.4V146.5h-2.4zM1475.7 115.4h2.4V117.5h-2.4zM1478.9 99.5h2.4V116.8h-2.4zM1488.5 126.4h2.4V142.4h-2.4zM1498.1 125.8h2.4V149.3h-2.4zM1501.3 85.6h2.4V127.1h-2.4zM1507.7 92.6h2.4V101.5h-2.4zM1514.1 120.2h2.4V124.4h-2.4zM1517.3 93.3h2.4V123h-2.4zM1520.5 91.2h2.4V96.7h-2.4zM1523.7 62.8h2.4V91.9h-2.4zM1530.1 60.7h2.4V82.9h-2.4zM1536.5 65.6h2.4V81.5h-2.4zM1539.7 52.4h2.4V67.7h-2.4zM1546.1 74.6h2.4V77.3h-2.4zM1552.5 62.4h2.4V72.5h-2.4zM1565.3 86.1h2.4V101.9h-2.4zM1568.5 76.5h2.4V86.1h-2.4zM1574.9 81h2.4V82.1h-2.4zM1584.5 103h2.4V110.9h-2.4zM1587.7 97.4h2.4V105.2h-2.4zM1600.5 183.6h2.4V208.5h-2.4zM1603.7 176h2.4V185.7h-2.4zM1610.1 178.1h2.4V181.5h-2.4zM1613.3 178.1h2.4V180.2h-2.4zM1629.3 205.8h2.4V211.3h-2.4zM1632.5 205.8h2.4V208.5h-2.4zM1642.1 212h2.4V234.8h-2.4zM1645.3 199.5h2.4V214.7h-2.4zM1654.9 216.1h2.4V241h-2.4zM1661.3 228.3h2.4V229.5h-2.4zM1670.9 233h2.4V238.9h-2.4zM1677.3 242.4h2.4V246h-2.4zM1680.5 229.5h2.4V244.2h-2.4zM1683.7 223.6h2.4V229.5h-2.4zM1686.9 213h2.4V224.8h-2.4zM1690.1 196.5h2.4V214.2h-2.4zM1696.5 203h2.4V205.3h-2.4zM1718.9 254.2h2.4V263.6h-2.4zM1725.3 232.4h2.4V259.5h-2.4zM1734.9 266h2.4V267.8h-2.4zM1741.3 270.7h2.4V280.7h-2.4zM1744.5 251.3h2.4V273.1h-2.4zM1747.7 247.7h2.4V253.6h-2.4zM1750.9 240.7h2.4V249.5h-2.4zM1757.3 231.9h2.4V249.5h-2.4zM1760.5 230.5h2.4V234.1h-2.4zM1763.7 222.4h2.4V231.9h-2.4zM1766.9 213.6h2.4V231.9h-2.4zM1770.1 201.1h2.4V216.5h-2.4zM1773.3 198.9h2.4V201.1h-2.4zM1786.1 220.2h2.4V223.1h-2.4zM1798.9 220.9h2.4V230.5h-2.4zM1808.5 259h2.4V261.2h-2.4zM1811.7 259.8h2.4V262h-2.4zM1818.1 253.9h2.4V276.6h-2.4zM1821.3 253.9h2.4V262.7h-2.4zM1837.3 313.3h2.4V319.9h-2.4zM1840.5 305.2h2.4V311.1h-2.4z" fill="#a6c8f6"/><path d="M2 408.6C8.5 410.2 27.7 415 41 418.4C54.3 421.8 68.3 425.3 82 428.7C95.7 432.1 109.3 435.6 123 439C136.7 442.4 150.3 445.1 164 449C177.7 452.9 194 459.7 205 462.5C216 465.3 222.2 465.1 230 466C237.8 466.9 244.3 466.8 251.5 468C258.7 469.2 265.8 471.7 273 473C280.2 474.3 287.4 474.8 294.6 476C301.8 477.2 308.8 479.1 316 480C323.2 480.9 330.4 481.2 337.6 481.7C344.8 482.1 351.8 482.4 359 482.7C366.2 483 373.5 483.2 380.7 483.4C387.9 483.6 394.8 483.6 402 483.8C409.2 484.1 416.5 484.2 423.7 484.9C430.9 485.6 438.9 487.3 445 488C451.1 488.7 455.8 488.3 460 489C464.2 489.7 463.8 490.8 470 492.4C476.2 494 489.5 496.2 497 498.5C504.5 500.8 508.8 505.4 515 506C521.2 506.6 528.2 503.2 534 502C539.8 500.8 543.9 497.9 550 499C556.1 500.1 564.1 507 570.6 508.8C577.1 510.6 579.8 508 589 510C598.2 512 613.7 517.6 626 520.6C638.3 523.6 653.8 526 662.8 528C671.8 530 671.7 531.2 680 532.8C688.3 534.4 704.6 537.2 712.8 537.7C721 538.2 722.7 537.4 729.2 536C735.8 534.6 743.9 531.7 752.1 529.5C760.3 527.3 768.6 525.5 778.4 523C788.2 520.5 800.8 517.7 811.1 514.8C821.4 511.9 833.5 508.1 840 505.8C846.5 503.5 845.7 503.7 849.8 500.8C853.9 497.9 859.3 492.9 864.6 488.5C869.9 484.1 876.7 478.3 881.8 474.4C886.9 470.5 890.8 468.5 895.3 465.2C899.8 461.9 904.8 457.7 908.9 454.7C913 451.7 915 451 919.9 447.3C924.8 443.6 931.2 437.8 938.4 432.6C945.6 427.4 956.9 419.8 963 416C969.1 412.2 971.2 412.1 975.3 409.8C979.4 407.6 983.5 404.4 987.6 402.5C991.7 400.6 995.4 400.4 999.9 398.5C1004.4 396.6 1007.5 394 1014.7 390.8C1022 387.6 1033.9 383.2 1043.4 379.4C1053 375.6 1062.4 371.1 1072 368C1081.6 364.9 1091.2 364.3 1100.8 360.7C1110.4 357.1 1122.3 350.2 1129.5 346.4C1136.7 342.6 1139 341.1 1143.8 337.8C1148.5 334.5 1150.8 331.6 1158 326.3C1165.2 321 1177.3 313.4 1186.9 306.2C1196.5 299 1206 290 1215.5 283.3C1225 276.6 1234.6 271.3 1244.2 266C1253.8 260.7 1263.4 256 1273 251.7C1282.6 247.4 1292 243.8 1301.6 240.2C1311.1 236.6 1323.9 232.6 1330.3 230.2C1336.7 227.8 1336 227.4 1340 226C1344 224.6 1349.7 222.6 1354.6 221.6C1359.5 220.6 1363.6 220.6 1369.2 219.9C1374.8 219.2 1382.1 217.5 1388.2 217.2C1394.3 216.9 1401.2 217.6 1405.8 218C1410.4 218.4 1411.1 219.3 1416 219.4C1420.9 219.5 1429.4 219.3 1435 218.7C1440.6 218.1 1443.5 217 1449.6 215.8C1455.7 214.6 1465.4 212.8 1471.5 211.4C1477.6 210.1 1481.2 208.8 1486.1 207.7C1491 206.6 1495.8 206 1500.7 204.8C1505.6 203.6 1510.5 202.2 1515.4 200.4C1520.3 198.6 1525.1 195.8 1530 193.8C1534.9 191.9 1539.7 190.3 1544.6 188.7C1549.5 187.1 1554.3 185.8 1559.2 184.3C1564.1 182.9 1568.9 181.4 1573.8 180C1578.7 178.6 1583.5 176.5 1588.4 175.6C1593.3 174.7 1597.7 174.7 1603 174.8C1608.3 174.9 1615 175.8 1620 176.3C1625 176.8 1627.2 177.1 1633 177.8C1638.8 178.5 1647.3 179.6 1654.5 180.6C1661.7 181.6 1667.4 183 1676 183.8C1684.6 184.6 1698.7 184.7 1706 185.5C1713.3 186.3 1715.6 187.4 1720 188.4C1724.4 189.4 1728.2 190.6 1732.3 191.5C1736.4 192.4 1740.5 193.3 1744.6 194C1748.7 194.7 1752.8 195.4 1756.9 195.8C1761 196.2 1765.1 196.2 1769.2 196.4C1773.3 196.6 1777.4 196.5 1781.5 196.8C1785.6 197.1 1789.6 197.6 1793.7 198C1797.8 198.4 1801.9 198.9 1806 199.5C1810.1 200.1 1814.2 200.8 1818.3 201.7C1822.4 202.6 1826.7 203.8 1830.6 205C1834.5 206.2 1839.8 208.4 1841.7 209.1" stroke="#ff0000" stroke-width="1.5" fill="none"/><path d="M2 444C3.7 444.3 7.2 443.8 12 446C16.8 448.2 26.2 453.9 31 457C35.8 460.1 35.9 463.2 41 464.6C46.1 466 54.7 463.5 61.5 465.6C68.3 467.7 75.2 473.6 82 477C88.8 480.4 97.3 483 102.5 486C107.7 489 109.6 492.4 113 495C116.4 497.6 117.9 499.2 123 501.5C128.1 503.8 137.3 506.2 143.5 508.6C149.7 511 154.9 512.4 160 515.8C165.1 519.2 168.2 525.5 174 529C179.8 532.5 188.5 535.7 194.7 537C200.9 538.3 206.6 538.3 211 537C215.4 535.7 217.8 530.8 221 529C224.2 527.2 226.3 527.6 230 526.4C233.7 525.1 238.7 523.1 243 521.5C247.3 519.9 249.7 516.3 255.8 516.5C261.9 516.7 273 521.6 279.5 522.5C286 523.4 288.5 521.2 294.6 522C300.7 522.8 308.8 526.9 316 527C323.2 527.1 330.4 524.5 337.6 522.5C344.8 520.5 353.3 516.4 359 515C364.7 513.6 366.2 516 372 514C377.8 512 386.1 505.2 393.6 503C401.1 500.8 410.2 500.8 417 501C423.8 501.2 429.1 502.2 434.5 504C439.9 505.8 445.2 510.5 449.5 512C453.8 513.5 455.2 509.1 460 513C464.8 516.9 471.8 528.9 478 535.4C484.2 541.9 491.4 547.8 497 552C502.6 556.2 506.8 560.8 511.6 560.5C516.4 560.2 521.1 556.1 526 550C530.9 543.9 536.7 529.2 541 524C545.3 518.8 548.3 516.9 552 518.8C555.7 520.7 559.3 530.5 563 535.4C566.7 540.3 570 546.5 574 548C578 549.5 582.7 543 587 544.6C591.3 546.2 594.8 554.4 600 557.5C605.2 560.6 612.3 560.6 618.5 563C624.7 565.4 630.2 569.2 637 572C643.8 574.8 651.8 576.9 659 579.6C666.2 582.4 674.3 586.3 680 588.5C685.7 590.7 687.6 593.1 693.1 592.8C698.6 592.5 706.8 592 712.8 586.9C718.8 581.8 723.7 571.9 729.2 562.3C734.7 552.7 739.6 538.8 745.6 529.5C751.6 520.2 759.7 512.1 765.2 506.6C770.7 501.1 771.8 500.5 778.4 496.7C785 492.9 797 488.5 804.6 483.6C812.2 478.7 818.3 473.2 824.3 467.2C830.3 461.2 835.2 456.8 840.7 447.5C846.2 438.2 852.1 423 857 411.5C861.9 400 866.4 388 870.2 378.7C874 369.4 876.7 363 880 355.7C883.3 348.4 886.2 342.1 890 335C893.8 327.9 898.7 319.8 903 313.4C907.3 307 912 301.4 916 296.8C920 292.2 923 290.3 927 285.7C931 281.1 935.7 273.3 940 269C944.3 264.7 948.2 262.8 952.8 260C957.4 257.2 962.7 255 967.6 252.5C972.5 250 977.4 245 982.3 245C987.2 245 992.1 250.9 997 252.5C1001.9 254.1 1006 254.7 1011.8 254.4C1017.6 254.1 1026.5 251.2 1032 250.7C1037.5 250.2 1039.5 252.7 1045 251.6C1050.5 250.5 1058.8 244.3 1065.3 244.2C1071.8 244 1078 250.6 1083.8 250.7C1089.6 250.8 1096.6 246.2 1100 245C1103.4 243.8 1100 245.1 1104.3 243.3C1108.6 241.5 1119.3 237.5 1125.8 234C1132.2 230.5 1138.9 226.2 1143 222.5C1147.1 218.8 1148 215.2 1150.2 211.8C1152.4 208.5 1152.9 207 1156 202.4C1159.1 197.8 1163.2 192.8 1168.9 184.5C1174.6 176.2 1184.6 160.1 1190.4 152.3C1196.2 144.5 1198.3 144.2 1203.8 137.7C1209.3 131.1 1217.7 118.5 1223.4 113C1229.1 107.5 1233.1 105.7 1238 104.5C1242.9 103.3 1247.2 106.1 1253 105.7C1258.8 105.3 1266.4 101.4 1272.6 102C1278.8 102.6 1283 108 1290 109.4C1297 110.8 1306.2 111 1314.4 110.6C1322.6 110.2 1332.1 106.6 1339 107C1345.9 107.4 1352.5 111.1 1356 113C1359.5 114.9 1356.8 115.6 1360 118.4C1363.2 121.2 1369 125.6 1375 130C1381 134.4 1390 138.7 1396 145C1402 151.3 1406.3 162 1411 168C1415.7 174 1419.7 178.4 1424 181C1428.3 183.6 1432.5 183.7 1436.8 183.7C1441.1 183.7 1445.3 182.7 1449.6 181C1453.9 179.3 1456.9 177.2 1462.5 173.4C1468.1 169.6 1477.1 161.2 1483 158C1488.9 154.8 1492.9 156.3 1498 154C1503.1 151.7 1509 147.6 1513.7 144C1518.5 140.4 1521.4 137 1526.5 132.5C1531.6 128 1538.8 121.3 1544.4 117C1550 112.7 1555.7 109 1560 106.8C1564.3 104.6 1566.7 104.5 1570 103.6C1573.3 102.7 1576.5 101.8 1579.7 101.5C1583 101.2 1586.2 99.9 1589.5 102.1C1592.8 104.3 1596 111.5 1599.2 114.8C1602.4 118 1605.7 119.3 1608.9 121.6C1612.2 123.9 1615.5 125.3 1618.7 128.4C1622 131.5 1625.2 136.5 1628.4 140.1C1631.6 143.7 1635.5 146.9 1638.1 149.8C1640.7 152.7 1641.7 155.3 1644 157.6C1646.3 159.9 1648.9 160.8 1651.8 163.4C1654.7 166 1658.3 169.9 1661.5 173.2C1664.7 176.4 1668.3 180.2 1671.2 182.9C1674.1 185.7 1676.4 188.1 1679 189.7C1681.6 191.3 1683.9 191.9 1686.8 192.6C1689.7 193.2 1693.2 192.9 1696.5 193.6C1699.8 194.2 1703.4 194.7 1706.3 196.5C1709.2 198.3 1711.7 202.4 1714 204.3C1716.3 206.2 1717.4 206.8 1720 208.1C1722.6 209.4 1726.7 210.3 1729.8 212.4C1732.9 214.5 1735.3 218.1 1738.4 220.4C1741.5 222.8 1745.2 225.3 1748.3 226.5C1751.4 227.7 1754 227.4 1756.9 227.5C1759.8 227.6 1763 227.3 1765.5 226.8C1768 226.3 1769.3 225.3 1771.6 224.7C1773.8 224 1776.1 223.2 1779 222.9C1781.9 222.6 1785.5 222.9 1788.8 222.9C1792.1 222.9 1795.8 222.3 1798.7 222.9C1801.6 223.5 1803.1 225 1806 226.5C1808.9 228 1812.8 230.5 1815.9 232.1C1819 233.7 1822 234.5 1824.5 235.8C1827 237.1 1828.5 238.2 1830.6 240.1C1832.6 242 1834.9 245.6 1836.8 247.4C1838.7 249.2 1840.9 250.5 1841.7 251.1" stroke="#ff8c00" stroke-width="1.4" fill="none"/><path d="M2 444C3.5 444.3 6.2 442.1 11 446C15.8 449.9 25.7 461.8 31 467.6C36.3 473.4 39.7 479.4 43 481C46.3 482.6 47.6 478 51 477C54.4 476 58.3 473.2 63.5 475C68.7 476.8 77.6 485 82 488C86.4 491 86.6 491 90 493C93.4 495 98.7 496 102.5 500C106.3 504 109.6 513.2 113 517C116.4 520.8 119.3 521.8 123 523C126.7 524.2 131.6 523.5 135 524C138.4 524.5 139.3 524.8 143.5 526C147.7 527.2 154.9 527.1 160 531C165.1 534.9 168.2 545.6 174 549.6C179.8 553.6 189.5 554.4 194.7 554.7C199.9 555.1 201.6 553.6 205 551.7C208.4 549.8 211.6 548.3 215 543.5C218.4 538.7 223 526.5 225.5 523C228 519.5 227.4 523.3 230 522.5C232.6 521.7 236.7 520.7 240.8 518C244.9 515.3 250.5 507.1 254.8 506.4C259.1 505.7 262.1 511.1 266.6 514C271.1 516.9 277 522.2 281.7 523.6C286.4 525 289.2 521.3 294.6 522.5C300 523.7 308.6 530.5 314 531C319.4 531.5 322.2 527.8 326.9 525.8C331.6 523.8 336.6 522.1 342 519.3C347.4 516.5 353.7 510.6 359 509C364.3 507.4 368.2 512.4 374 509.6C379.8 506.8 388.9 494.9 393.6 492.4C398.3 489.9 398.1 494.3 402 494.6C405.9 494.9 411.6 492.6 417 494C422.4 495.4 429.5 499.2 434.5 503C439.5 506.8 443.1 514.5 447 517C450.9 519.5 454.2 515.7 458 518C461.8 520.3 466.7 525.7 470 531C473.3 536.3 473.5 541.3 478 550C482.5 558.7 491.7 576.7 497 583C502.3 589.3 506.1 590.1 509.8 587.7C513.5 585.3 515 581.1 519 568.6C523 556.1 530 524.4 533.7 513C537.4 501.6 538.3 502.3 541 500C543.7 497.7 547.2 496.8 550 499C552.8 501.2 554.9 504.5 557.7 513C560.5 521.5 564.3 541.7 567 550C569.7 558.3 570.7 562.7 574 563C577.3 563.3 582.7 550.5 587 552C591.3 553.5 594.8 568 600 572C605.2 576 611.7 572.6 618.5 576C625.3 579.4 635.1 588.8 640.6 592.5C646.1 596.2 648.3 598 651.7 598C655.1 598 657.3 592.2 661 592.5C664.7 592.8 670.6 598.5 673.8 600C677 601.5 676.8 600.2 680 601.6C683.2 603 689.3 608.5 693.1 608.2C696.9 607.9 699.2 603.8 703 600C706.8 596.2 711.6 593.7 716 585.2C720.4 576.7 725.4 560.7 729.2 549.2C733 537.7 735.7 526.8 739 516.4C742.3 506 745.6 494.5 748.9 486.9C752.2 479.2 754.9 473.8 758.7 470.5C762.5 467.2 767.4 468.8 771.8 467.2C776.2 465.6 779.4 462.4 784.9 460.7C790.4 458.9 798.6 459.4 804.6 456.7C810.6 454 815.5 450.2 821 444.3C826.5 438.4 832.5 430.1 837.4 421.3C842.3 412.6 846.7 403.8 850.5 391.8C854.3 379.8 857.4 361.2 860.3 349.2C863.2 337.2 865.5 327.8 868 320C870.5 312.2 872.8 309.2 875.3 302.3C877.8 295.4 879.6 283.9 882.7 278.3C885.8 272.8 889.8 274.2 893.8 269C897.8 263.8 903.3 252.1 906.7 247C910.1 241.9 910.3 241.2 914 238.7C917.7 236.2 924.5 235.6 928.8 232.2C933.1 228.8 936.6 221 940 218.4C943.4 215.8 945.6 216.1 949 216.6C952.4 217.1 956.2 220.9 960.2 221.2C964.2 221.5 969.3 218.7 973 218.4C976.7 218.1 978.6 215.2 982.3 219.3C986 223.5 991.5 238.4 995.2 243.3C998.9 248.2 1000.5 247.6 1004.5 248.8C1008.5 250 1014.6 251.3 1019.2 250.7C1023.8 250.1 1027.7 245.2 1032 245.1C1036.3 244.9 1039.8 251.3 1045 249.8C1050.2 248.3 1059.2 238 1063.5 236C1067.8 234 1067.9 235.1 1071 237.8C1074.1 240.6 1079.2 250 1082 252.5C1084.8 255 1084.5 254.9 1087.5 252.9C1090.5 250.9 1096.5 242.9 1100 240.5C1103.5 238.1 1104.3 241.5 1108.6 238.6C1112.9 235.7 1120.1 228.6 1125.8 223.2C1131.5 217.8 1138.7 213.2 1143 206C1147.3 198.8 1148.5 187.6 1151.6 180.2C1154.7 172.8 1157.6 168.5 1161.7 161.6C1165.8 154.7 1172.1 145.5 1176 138.6C1179.9 131.7 1182.7 125.7 1185.3 120C1187.9 114.3 1188.4 108.5 1191.5 104.5C1194.6 100.5 1199.7 100.3 1203.8 96C1207.9 91.7 1212 83.6 1216 78.7C1220 73.8 1224.3 67.6 1228 66.4C1231.7 65.2 1234.2 68.4 1238 71.3C1241.8 74.2 1246.4 80.9 1250.5 83.6C1254.6 86.3 1258.3 85.9 1262.8 87.3C1267.3 88.7 1273 88.8 1277.5 92.2C1282 95.7 1286.3 104.4 1290 108C1293.7 111.6 1295.6 113.2 1299.7 113.6C1303.8 114 1309.9 111.1 1314.4 110.6C1318.9 110.1 1322.6 111.6 1326.7 110.6C1330.8 109.6 1334.9 104.5 1339 104.5C1343.1 104.5 1347.6 105.9 1351.3 110.6C1355 115.3 1357.9 127.5 1361 132.8C1364.1 138.2 1366.3 138.9 1370 142.7C1373.7 146.5 1378.7 151.7 1383 155.5C1387.3 159.3 1391.3 159.4 1396 165.8C1400.7 172.2 1406.8 186.3 1411 194C1415.2 201.7 1418.5 208.7 1421.5 211.9C1424.5 215.1 1425.6 214.7 1429 213C1432.4 211.3 1437.3 206.5 1442 201.6C1446.7 196.7 1451.9 190.1 1457 183.7C1462.1 177.3 1468.4 169.4 1472.7 163C1477 156.6 1478.8 148.7 1483 145.3C1487.2 141.9 1492.9 145.7 1498 142.7C1503.1 139.7 1509 132 1513.7 127.3C1518.5 122.6 1522.2 119.6 1526.5 114.5C1530.8 109.4 1534.6 101.7 1539.3 96.6C1544 91.5 1549.6 86.1 1554.7 83.8C1559.8 81.5 1566.2 82.8 1570 82.7C1573.8 82.6 1574.9 82.2 1577.8 83.2C1580.7 84.2 1585.2 86.5 1587.5 88.5C1589.8 90.5 1589.5 90.9 1591.4 95.3C1593.4 99.7 1596.3 108.6 1599.2 114.8C1602.1 121 1605.7 126.8 1608.9 132.3C1612.2 137.8 1615.5 143 1618.7 147.9C1622 152.8 1625.2 156.7 1628.4 161.5C1631.6 166.3 1635.5 172.9 1638.1 177C1640.7 181.1 1641.7 183.2 1644 185.8C1646.3 188.4 1648.9 189.8 1651.8 192.6C1654.7 195.4 1658.3 199.2 1661.5 202.4C1664.7 205.7 1668.3 209.3 1671.2 212.1C1674.1 214.8 1676.4 217.6 1679 218.9C1681.6 220.2 1684.2 220.6 1686.8 219.9C1689.4 219.2 1691.7 216 1694.6 215C1697.5 214 1701.4 213.2 1704.3 214C1707.2 214.8 1709.5 217.4 1712.1 219.9C1714.7 222.4 1717.5 227 1720 229C1722.5 231 1725 230.5 1727.4 232.1C1729.9 233.7 1732.2 236.5 1734.7 238.8C1737.2 241.2 1739.6 244.8 1742.1 246.2C1744.6 247.6 1747 247.2 1749.5 247.2C1752 247.2 1754.5 247.2 1756.9 246.4C1759.4 245.6 1761.8 244.6 1764.2 242.5C1766.7 240.4 1769.1 236.3 1771.6 233.9C1774.1 231.5 1776.5 229.1 1779 227.8C1781.5 226.5 1784 226.2 1786.4 225.9C1788.9 225.6 1791.5 225.8 1793.7 225.9C1796 226 1797.9 225.4 1799.9 226.5C1802 227.6 1803.5 230.4 1806 232.7C1808.5 235 1811.9 238 1814.6 240.1C1817.3 242.2 1819.7 243.4 1822 245C1824.3 246.6 1826.2 247.2 1828.2 249.9C1830.2 252.6 1832.2 257.2 1834.3 261C1836.4 264.8 1840 270.7 1841.1 272.6" stroke="#ffffff" stroke-width="1.5" fill="none"/><path d="M2 783.3H1843" stroke="#b9bdd2" stroke-width="1" fill="none"/><path d="M1.2 783.3V787M4.4 783.3V786.1M7.6 783.3V785.3M10.8 783.3V787.4M14 783.3V789.5M17.2 783.3V791.9M20.4 783.3V794.4M23.6 783.3V796.9M26.8 783.3V798.5M30 783.3V799.7M33.2 783.3V800.9M36.4 783.3V802.3M39.6 783.3V803.9M42.8 783.3V804.7M46 783.3V801.4M49.2 783.3V798.2M52.4 783.3V796.3M55.6 783.3V794.5M58.8 783.3V792.8M62 783.3V791.1M65.2 783.3V790M68.4 783.3V791.7M71.6 783.3V793.5M74.8 783.3V795.2M78 783.3V796.2M81.2 783.3V797.1M84.4 783.3V798.1M87.6 783.3V798.9M90.8 783.3V798.2M94 783.3V797.4M97.2 783.3V797.4M100.4 783.3V797.6M103.6 783.3V798.9M106.8 783.3V802.2M110 783.3V805.3M113.2 783.3V806.1M116.4 783.3V805.9M119.6 783.3V804.9M122.8 783.3V803.8M126 783.3V802.7M129.2 783.3V801.7M132.4 783.3V800.1M135.6 783.3V798.5M138.8 783.3V796.9M142 783.3V796.1M145.2 783.3V795.5M148.4 783.3V794.9M151.6 783.3V795M154.8 783.3V795.6M158 783.3V796.2M161.2 783.3V797.3M164.4 783.3V798.9M167.6 783.3V800.5M170.8 783.3V802.1M174 783.3V803.7M177.2 783.3V803.3M180.4 783.3V802.3M183.6 783.3V801.4M186.8 783.3V800.5M190 783.3V799M193.2 783.3V797.4M196.4 783.3V795.8M199.6 783.3V793.8M202.8 783.3V791.4M206 783.3V789M209.2 783.3V786.4M212.4 783.3V783.7M215.6 783.3V780.3M218.8 783.3V773.9M222 783.3V770.6M225.2 783.3V769.2M228.4 783.3V768.2M231.6 783.3V768.5M234.8 783.3V768.8M238 783.3V769M241.2 783.3V768.5M244.4 783.3V767.9M247.6 783.3V767.4M250.8 783.3V767M254 783.3V767.7M257.2 783.3V770M260.4 783.3V773M263.6 783.3V776M266.8 783.3V778.6M270 783.3V781.3M273.2 783.3V783.9M276.4 783.3V786.6M279.6 783.3V787.3M282.8 783.3V786.7M286 783.3V786M289.2 783.3V785.4M292.4 783.3V785.3M295.6 783.3V785.5M298.8 783.3V785.6M302 783.3V786.3M305.2 783.3V787.5M308.4 783.3V788.7M311.6 783.3V789.8M314.8 783.3V788.8M318 783.3V786.7M321.2 783.3V785M324.4 783.3V784.2M327.6 783.3V783.4M330.8 783.3V782.5M334 783.3V780.9M337.2 783.3V779.3M340.4 783.3V777.7M343.6 783.3V776.5M346.8 783.3V775.4M350 783.3V774.2M353.2 783.3V773.3M356.4 783.3V773.9M359.6 783.3V774.5M362.8 783.3V775.4M366 783.3V776.4M369.2 783.3V777.4M372.4 783.3V776.4M375.6 783.3V774.2M378.8 783.3V772.1M382 783.3V770M385.2 783.3V769.3M388.4 783.3V769M391.6 783.3V769.6M394.8 783.3V771.6M398 783.3V773.7M401.2 783.3V775.4M404.5 783.3V776.2M407.7 783.3V777M410.9 783.3V777.8M414.1 783.3V778.5M417.3 783.3V779.8M420.5 783.3V781.4M423.7 783.3V782.9M426.9 783.3V784.7M430.1 783.3V786.9M433.3 783.3V789.1M436.5 783.3V791.2M439.7 783.3V793.4M442.9 783.3V794.8M446.1 783.3V795.8M449.3 783.3V796.1M452.5 783.3V795.1M455.7 783.3V794M458.9 783.3V796M462.1 783.3V797.9M465.3 783.3V799.9M468.5 783.3V802.1M471.7 783.3V804.4M474.9 783.3V806.6M478.1 783.3V808.9M481.3 783.3V812M484.5 783.3V815.1M487.7 783.3V817.9M490.9 783.3V819.1M494.1 783.3V820.3M497.3 783.3V821.5M500.5 783.3V819.1M503.7 783.3V816.7M506.9 783.3V814.3M510.1 783.3V808.8M513.3 783.3V802.8M516.5 783.3V796.4M519.7 783.3V787.1M522.9 783.3V778.4M526.1 783.3V770M529.3 783.3V760.3M532.5 783.3V750.6M535.7 783.3V743.2M538.9 783.3V741.1M542.1 783.3V740.6M545.3 783.3V744.1M548.5 783.3V747.6M551.7 783.3V753.1M554.9 783.3V760M558.1 783.3V774.7M561.3 783.3V788.6M564.5 783.3V801.3M567.7 783.3V810.1M570.9 783.3V814.9M574.1 783.3V809.3M577.3 783.3V803M580.5 783.3V798.2M583.7 783.3V794.5M586.9 783.3V790.8M590.1 783.3V793.5M593.3 783.3V797.4M596.5 783.3V801.3M599.7 783.3V804.2M602.9 783.3V804.8M606.1 783.3V804.4M609.3 783.3V802.3M612.5 783.3V800.2M615.7 783.3V798.1M618.9 783.3V795.9M622.1 783.3V795.7M625.3 783.3V796.5M628.5 783.3V797.3M631.7 783.3V798.3M634.9 783.3V799.5M638.1 783.3V800.7M641.3 783.3V801.8M644.5 783.3V803M647.7 783.3V802.6M650.9 783.3V801.9M654.1 783.3V799.5M657.3 783.3V795.6M660.5 783.3V791.6M663.7 783.3V789.5M666.9 783.3V790.8M670.1 783.3V792.1M673.3 783.3V793.3M676.5 783.3V793.8M679.7 783.3V794.3M682.9 783.3V794.7M686.1 783.3V794.9M689.3 783.3V795M692.5 783.3V795.2M695.7 783.3V790.5M698.9 783.3V785.7M702.1 783.3V782.7M705.3 783.3V780.9M708.5 783.3V780.6M711.7 783.3V781.2M714.9 783.3V777.8M718.1 783.3V772.4M721.3 783.3V767.3M724.5 783.3V762.5M727.7 783.3V757.7M730.9 783.3V752.4M734.1 783.3V745.6M737.3 783.3V738.8M740.5 783.3V732.4M743.7 783.3V730.1M746.9 783.3V727.9M750.1 783.3V725.6M753.3 783.3V725.5M756.5 783.3V727M759.7 783.3V728.5M762.9 783.3V732.5M766.1 783.3V737M769.3 783.3V741.6M772.5 783.3V746.1M775.7 783.3V747.4M778.9 783.3V748.4M782.1 783.3V750.5M785.3 783.3V753.2M788.5 783.3V756M791.7 783.3V758.4M794.9 783.3V760.2M798.1 783.3V761.9M801.3 783.3V763.7M804.5 783.3V764.3M807.7 783.3V763.8M810.9 783.3V763.3M814.1 783.3V762.8M817.3 783.3V762.9M820.5 783.3V763.5M823.7 783.3V763.2M826.9 783.3V760.3M830.1 783.3V757.4M833.3 783.3V755.8M836.5 783.3V754.4M839.7 783.3V752.9M842.9 783.3V748.6M846.1 783.3V743.5M849.3 783.3V738.4M852.5 783.3V733.2M855.7 783.3V727.6M858.9 783.3V721.9M862.1 783.3V716.2M865.3 783.3V712.4M868.5 783.3V712.3M871.7 783.3V712.1M874.9 783.3V711.4M878.1 783.3V710.3M881.3 783.3V710.7M884.5 783.3V715.2M887.7 783.3V719.8M890.9 783.3V724M894.1 783.3V725.6M897.3 783.3V727.2M900.5 783.3V728.8M903.7 783.3V728.8M906.9 783.3V728.8M910.1 783.3V731.2M913.3 783.3V735.1M916.5 783.3V738.9M919.7 783.3V742.7M922.9 783.3V745M926.1 783.3V746.6M929.3 783.3V748.2M932.5 783.3V748.4M935.7 783.3V747.7M938.9 783.3V748M942.1 783.3V751.3M945.3 783.3V754.7M948.5 783.3V758M951.7 783.3V761.2M954.9 783.3V764.4M958.1 783.3V767.5M961.3 783.3V768.1M964.5 783.3V768.5M967.7 783.3V769.1M970.9 783.3V770.1M974.1 783.3V771.2M977.3 783.3V772.3M980.5 783.3V776.3M983.7 783.3V780.2M986.9 783.3V784.3M990.1 783.3V788.5M993.3 783.3V792.3M996.5 783.3V795M999.7 783.3V797.7M1002.9 783.3V796.9M1006.1 783.3V796.2M1009.3 783.3V795.4M1012.5 783.3V794.6M1015.7 783.3V793.1M1018.9 783.3V791.7M1022.1 783.3V790.2M1025.3 783.3V788.5M1028.5 783.3V786.1M1031.7 783.3V783.6M1034.9 783.3V784.4M1038.1 783.3V785.8M1041.3 783.3V787.2M1044.5 783.3V786.4M1047.7 783.3V784.3M1050.9 783.3V782.3M1054.1 783.3V780.4M1057.3 783.3V778.6M1060.5 783.3V776.8M1063.7 783.3V776.7M1066.9 783.3V779.1M1070.1 783.3V781.7M1073.3 783.3V785.3M1076.5 783.3V788.9M1079.7 783.3V792.5M1082.9 783.3V792.2M1086.1 783.3V791.6M1089.3 783.3V788.7M1092.5 783.3V783.9M1095.7 783.3V780M1098.9 783.3V779.2M1102.1 783.3V778.4M1105.3 783.3V777.6M1108.5 783.3V776.1M1111.7 783.3V774.7M1114.9 783.3V773.3M1118.1 783.3V772M1121.3 783.3V771.2M1124.5 783.3V770.3M1127.7 783.3V769.5M1130.9 783.3V768.4M1134.1 783.3V766.8M1137.3 783.3V765.3M1140.5 783.3V763.7M1143.7 783.3V762.1M1146.9 783.3V757.7M1150.1 783.3V751.3M1153.3 783.3V745.9M1156.5 783.3V743.7M1159.7 783.3V741.5M1162.9 783.3V741.3M1166.1 783.3V741.3M1169.3 783.3V741.3M1172.5 783.3V741.3M1175.7 783.3V741.3M1178.9 783.3V740.6M1182.1 783.3V738.8M1185.3 783.3V737M1188.5 783.3V735.3M1191.7 783.3V736.8M1194.9 783.3V738.7M1198.1 783.3V740.2M1201.4 783.3V741.7M1204.6 783.3V743.1M1207.8 783.3V744.6M1211 783.3V745.6M1214.2 783.3V746.5M1217.4 783.3V747.5M1220.6 783.3V746.6M1223.8 783.3V745.6M1227 783.3V747.3M1230.2 783.3V751.3M1233.4 783.3V755.3M1236.6 783.3V759.5M1239.8 783.3V763.8M1243 783.3V768.2M1246.2 783.3V772.6M1249.4 783.3V776.9M1252.6 783.3V781.2M1255.8 783.3V781.9M1259 783.3V782.5M1262.2 783.3V783M1265.4 783.3V783.5M1268.6 783.3V784.1M1271.8 783.3V784.6M1275 783.3V785.1M1278.2 783.3V787.3M1281.4 783.3V789.7M1284.6 783.3V792.1M1287.8 783.3V794.5M1291 783.3V796.9M1294.2 783.3V799.3M1297.4 783.3V798.8M1300.6 783.3V796.6M1303.8 783.3V794.3M1307 783.3V792.1M1310.2 783.3V789.9M1313.4 783.3V789.7M1316.6 783.3V789.7M1319.8 783.3V789.7M1323 783.3V789.6M1326.2 783.3V787.2M1329.4 783.3V784.7M1332.6 783.3V783M1335.8 783.3V781.6M1339 783.3V780.3M1342.2 783.3V782.2M1345.4 783.3V784.3M1348.6 783.3V786.4M1351.8 783.3V789.6M1355 783.3V794.4M1358.2 783.3V799.2M1361.4 783.3V803.4M1364.6 783.3V806.1M1367.8 783.3V808.8M1371 783.3V808.8M1374.2 783.3V808.6M1377.4 783.3V808.4M1380.6 783.3V808.2M1383.8 783.3V807.9M1387 783.3V807.6M1390.2 783.3V807.2M1393.4 783.3V809.3M1396.6 783.3V811.7M1399.8 783.3V814M1403 783.3V815.9M1406.2 783.3V817.8M1409.4 783.3V819.7M1412.6 783.3V821.6M1415.8 783.3V822.6M1419 783.3V822.1M1422.2 783.3V821.5M1425.4 783.3V817.6M1428.6 783.3V813.6M1431.8 783.3V809.6M1435 783.3V805.3M1438.2 783.3V800.9M1441.4 783.3V796.5M1444.6 783.3V792.5M1447.8 783.3V788.6M1451 783.3V784.8M1454.2 783.3V780.2M1457.4 783.3V775.2M1460.6 783.3V770.8M1463.8 783.3V768.4M1467 783.3V766M1470.2 783.3V763.7M1473.4 783.3V761.8M1476.6 783.3V759.9M1479.8 783.3V758M1483 783.3V756.9M1486.2 783.3V759.4M1489.4 783.3V762M1492.6 783.3V764.5M1495.8 783.3V766M1499 783.3V764.5M1502.2 783.3V763M1505.4 783.3V761.5M1508.6 783.3V761.1M1511.8 783.3V762.5M1515 783.3V763.9M1518.2 783.3V762.3M1521.4 783.3V760.7M1524.6 783.3V759.1M1527.8 783.3V757.5M1531 783.3V756.2M1534.2 783.3V755.6M1537.4 783.3V755.1M1540.6 783.3V754.8M1543.8 783.3V755.7M1547 783.3V756.7M1550.2 783.3V757.7M1553.4 783.3V758.6M1556.6 783.3V759.6M1559.8 783.3V760.5M1563 783.3V763.4M1566.2 783.3V766.4M1569.4 783.3V768.3M1572.6 783.3V769.5M1575.8 783.3V770.7M1579 783.3V772.8M1582.2 783.3V776M1585.4 783.3V779.2M1588.6 783.3V783.2M1591.8 783.3V789.1M1595 783.3V795.3M1598.2 783.3V802.3M1601.4 783.3V807.1M1604.6 783.3V808.7M1607.8 783.3V810.3M1611 783.3V811.9M1614.2 783.3V813.2M1617.4 783.3V814.1M1620.6 783.3V815.1M1623.8 783.3V816.1M1627 783.3V816.9M1630.2 783.3V817.7M1633.4 783.3V818.5M1636.6 783.3V819.3M1639.8 783.3V820.1M1643 783.3V819.2M1646.2 783.3V818M1649.4 783.3V816.8M1652.6 783.3V816.1M1655.8 783.3V815.6M1659 783.3V815M1662.2 783.3V814.5M1665.4 783.3V813.9M1668.6 783.3V813.1M1671.8 783.3V812.3M1675 783.3V811.5M1678.2 783.3V810.7M1681.4 783.3V809.1M1684.6 783.3V805.9M1687.8 783.3V802.7M1691 783.3V799.5M1694.2 783.3V796.3M1697.4 783.3V794.3M1700.6 783.3V792.9M1703.8 783.3V791.5M1707 783.3V793.3M1710.2 783.3V795.3M1713.4 783.3V797.4M1716.6 783.3V799.4M1719.8 783.3V800.2M1723 783.3V800.2M1726.2 783.3V800.2M1729.4 783.3V800.2M1732.6 783.3V801.1M1735.8 783.3V802.4M1739 783.3V803.6M1742.2 783.3V804.3M1745.4 783.3V802.1M1748.6 783.3V799.9M1751.8 783.3V797.7M1755 783.3V795.5M1758.2 783.3V793.2M1761.4 783.3V791M1764.6 783.3V788.7M1767.8 783.3V786.5M1771 783.3V783.3M1774.2 783.3V780.1M1777.4 783.3V776.9M1780.6 783.3V776.8M1783.8 783.3V777.2M1787 783.3V777.6M1790.2 783.3V778.4M1793.4 783.3V779.3M1796.6 783.3V780.3M1799.8 783.3V781.2M1803 783.3V783.6M1806.2 783.3V786.4M1809.4 783.3V789.3M1812.6 783.3V791.3M1815.8 783.3V792.9M1819 783.3V794.3M1822.2 783.3V795.4M1825.4 783.3V796.5M1828.6 783.3V798.7M1831.8 783.3V801M1835 783.3V803.4M1838.2 783.3V806.6M1841.4 783.3V809" stroke="#d4d7e6" stroke-width="1.1" fill="none"/><path d="M1.2 787L4.4 786.1L7.6 785.3L10.8 787.4L14 789.5L17.2 791.9L20.4 794.4L23.6 796.9L26.8 798.5L30 799.7L33.2 800.9L36.4 802.3L39.6 803.9L42.8 804.7L46 801.4L49.2 798.2L52.4 796.3L55.6 794.5L58.8 792.8L62 791.1L65.2 790L68.4 791.7L71.6 793.5L74.8 795.2L78 796.2L81.2 797.1L84.4 798.1L87.6 798.9L90.8 798.2L94 797.4L97.2 797.4L100.4 797.6L103.6 798.9L106.8 802.2L110 805.3L113.2 806.1L116.4 805.9L119.6 804.9L122.8 803.8L126 802.7L129.2 801.7L132.4 800.1L135.6 798.5L138.8 796.9L142 796.1L145.2 795.5L148.4 794.9L151.6 795L154.8 795.6L158 796.2L161.2 797.3L164.4 798.9L167.6 800.5L170.8 802.1L174 803.7L177.2 803.3L180.4 802.3L183.6 801.4L186.8 800.5L190 799L193.2 797.4L196.4 795.8L199.6 793.8L202.8 791.4L206 789L209.2 786.4L212.4 783.7L215.6 780.3L218.8 773.9L222 770.6L225.2 769.2L228.4 768.2L231.6 768.5L234.8 768.8L238 769L241.2 768.5L244.4 767.9L247.6 767.4L250.8 767L254 767.7L257.2 770L260.4 773L263.6 776L266.8 778.6L270 781.3L273.2 783.9L276.4 786.6L279.6 787.3L282.8 786.7L286 786L289.2 785.4L292.4 785.3L295.6 785.5L298.8 785.6L302 786.3L305.2 787.5L308.4 788.7L311.6 789.8L314.8 788.8L318 786.7L321.2 785L324.4 784.2L327.6 783.4L330.8 782.5L334 780.9L337.2 779.3L340.4 777.7L343.6 776.5L346.8 775.4L350 774.2L353.2 773.3L356.4 773.9L359.6 774.5L362.8 775.4L366 776.4L369.2 777.4L372.4 776.4L375.6 774.2L378.8 772.1L382 770L385.2 769.3L388.4 769L391.6 769.6L394.8 771.6L398 773.7L401.2 775.4L404.5 776.2L407.7 777L410.9 777.8L414.1 778.5L417.3 779.8L420.5 781.4L423.7 782.9L426.9 784.7L430.1 786.9L433.3 789.1L436.5 791.2L439.7 793.4L442.9 794.8L446.1 795.8L449.3 796.1L452.5 795.1L455.7 794L458.9 796L462.1 797.9L465.3 799.9L468.5 802.1L471.7 804.4L474.9 806.6L478.1 808.9L481.3 812L484.5 815.1L487.7 817.9L490.9 819.1L494.1 820.3L497.3 821.5L500.5 819.1L503.7 816.7L506.9 814.3L510.1 808.8L513.3 802.8L516.5 796.4L519.7 787.1L522.9 778.4L526.1 770L529.3 760.3L532.5 750.6L535.7 743.2L538.9 741.1L542.1 740.6L545.3 744.1L548.5 747.6L551.7 753.1L554.9 760L558.1 774.7L561.3 788.6L564.5 801.3L567.7 810.1L570.9 814.9L574.1 809.3L577.3 803L580.5 798.2L583.7 794.5L586.9 790.8L590.1 793.5L593.3 797.4L596.5 801.3L599.7 804.2L602.9 804.8L606.1 804.4L609.3 802.3L612.5 800.2L615.7 798.1L618.9 795.9L622.1 795.7L625.3 796.5L628.5 797.3L631.7 798.3L634.9 799.5L638.1 800.7L641.3 801.8L644.5 803L647.7 802.6L650.9 801.9L654.1 799.5L657.3 795.6L660.5 791.6L663.7 789.5L666.9 790.8L670.1 792.1L673.3 793.3L676.5 793.8L679.7 794.3L682.9 794.7L686.1 794.9L689.3 795L692.5 795.2L695.7 790.5L698.9 785.7L702.1 782.7L705.3 780.9L708.5 780.6L711.7 781.2L714.9 777.8L718.1 772.4L721.3 767.3L724.5 762.5L727.7 757.7L730.9 752.4L734.1 745.6L737.3 738.8L740.5 732.4L743.7 730.1L746.9 727.9L750.1 725.6L753.3 725.5L756.5 727L759.7 728.5L762.9 732.5L766.1 737L769.3 741.6L772.5 746.1L775.7 747.4L778.9 748.4L782.1 750.5L785.3 753.2L788.5 756L791.7 758.4L794.9 760.2L798.1 761.9L801.3 763.7L804.5 764.3L807.7 763.8L810.9 763.3L814.1 762.8L817.3 762.9L820.5 763.5L823.7 763.2L826.9 760.3L830.1 757.4L833.3 755.8L836.5 754.4L839.7 752.9L842.9 748.6L846.1 743.5L849.3 738.4L852.5 733.2L855.7 727.6L858.9 721.9L862.1 716.2L865.3 712.4L868.5 712.3L871.7 712.1L874.9 711.4L878.1 710.3L881.3 710.7L884.5 715.2L887.7 719.8L890.9 724L894.1 725.6L897.3 727.2L900.5 728.8L903.7 728.8L906.9 728.8L910.1 731.2L913.3 735.1L916.5 738.9L919.7 742.7L922.9 745L926.1 746.6L929.3 748.2L932.5 748.4L935.7 747.7L938.9 748L942.1 751.3L945.3 754.7L948.5 758L951.7 761.2L954.9 764.4L958.1 767.5L961.3 768.1L964.5 768.5L967.7 769.1L970.9 770.1L974.1 771.2L977.3 772.3L980.5 776.3L983.7 780.2L986.9 784.3L990.1 788.5L993.3 792.3L996.5 795L999.7 797.7L1002.9 796.9L1006.1 796.2L1009.3 795.4L1012.5 794.6L1015.7 793.1L1018.9 791.7L1022.1 790.2L1025.3 788.5L1028.5 786.1L1031.7 783.6L1034.9 784.4L1038.1 785.8L1041.3 787.2L1044.5 786.4L1047.7 784.3L1050.9 782.3L1054.1 780.4L1057.3 778.6L1060.5 776.8L1063.7 776.7L1066.9 779.1L1070.1 781.7L1073.3 785.3L1076.5 788.9L1079.7 792.5L1082.9 792.2L1086.1 791.6L1089.3 788.7L1092.5 783.9L1095.7 780L1098.9 779.2L1102.1 778.4L1105.3 777.6L1108.5 776.1L1111.7 774.7L1114.9 773.3L1118.1 772L1121.3 771.2L1124.5 770.3L1127.7 769.5L1130.9 768.4L1134.1 766.8L1137.3 765.3L1140.5 763.7L1143.7 762.1L1146.9 757.7L1150.1 751.3L1153.3 745.9L1156.5 743.7L1159.7 741.5L1162.9 741.3L1166.1 741.3L1169.3 741.3L1172.5 741.3L1175.7 741.3L1178.9 740.6L1182.1 738.8L1185.3 737L1188.5 735.3L1191.7 736.8L1194.9 738.7L1198.1 740.2L1201.4 741.7L1204.6 743.1L1207.8 744.6L1211 745.6L1214.2 746.5L1217.4 747.5L1220.6 746.6L1223.8 745.6L1227 747.3L1230.2 751.3L1233.4 755.3L1236.6 759.5L1239.8 763.8L1243 768.2L1246.2 772.6L1249.4 776.9L1252.6 781.2L1255.8 781.9L1259 782.5L1262.2 783L1265.4 783.5L1268.6 784.1L1271.8 784.6L1275 785.1L1278.2 787.3L1281.4 789.7L1284.6 792.1L1287.8 794.5L1291 796.9L1294.2 799.3L1297.4 798.8L1300.6 796.6L1303.8 794.3L1307 792.1L1310.2 789.9L1313.4 789.7L1316.6 789.7L1319.8 789.7L1323 789.6L1326.2 787.2L1329.4 784.7L1332.6 783L1335.8 781.6L1339 780.3L1342.2 782.2L1345.4 784.3L1348.6 786.4L1351.8 789.6L1355 794.4L1358.2 799.2L1361.4 803.4L1364.6 806.1L1367.8 808.8L1371 808.8L1374.2 808.6L1377.4 808.4L1380.6 808.2L1383.8 807.9L1387 807.6L1390.2 807.2L1393.4 809.3L1396.6 811.7L1399.8 814L1403 815.9L1406.2 817.8L1409.4 819.7L1412.6 821.6L1415.8 822.6L1419 822.1L1422.2 821.5L1425.4 817.6L1428.6 813.6L1431.8 809.6L1435 805.3L1438.2 800.9L1441.4 796.5L1444.6 792.5L1447.8 788.6L1451 784.8L1454.2 780.2L1457.4 775.2L1460.6 770.8L1463.8 768.4L1467 766L1470.2 763.7L1473.4 761.8L1476.6 759.9L1479.8 758L1483 756.9L1486.2 759.4L1489.4 762L1492.6 764.5L1495.8 766L1499 764.5L1502.2 763L1505.4 761.5L1508.6 761.1L1511.8 762.5L1515 763.9L1518.2 762.3L1521.4 760.7L1524.6 759.1L1527.8 757.5L1531 756.2L1534.2 755.6L1537.4 755.1L1540.6 754.8L1543.8 755.7L1547 756.7L1550.2 757.7L1553.4 758.6L1556.6 759.6L1559.8 760.5L1563 763.4L1566.2 766.4L1569.4 768.3L1572.6 769.5L1575.8 770.7L1579 772.8L1582.2 776L1585.4 779.2L1588.6 783.2L1591.8 789.1L1595 795.3L1598.2 802.3L1601.4 807.1L1604.6 808.7L1607.8 810.3L1611 811.9L1614.2 813.2L1617.4 814.1L1620.6 815.1L1623.8 816.1L1627 816.9L1630.2 817.7L1633.4 818.5L1636.6 819.3L1639.8 820.1L1643 819.2L1646.2 818L1649.4 816.8L1652.6 816.1L1655.8 815.6L1659 815L1662.2 814.5L1665.4 813.9L1668.6 813.1L1671.8 812.3L1675 811.5L1678.2 810.7L1681.4 809.1L1684.6 805.9L1687.8 802.7L1691 799.5L1694.2 796.3L1697.4 794.3L1700.6 792.9L1703.8 791.5L1707 793.3L1710.2 795.3L1713.4 797.4L1716.6 799.4L1719.8 800.2L1723 800.2L1726.2 800.2L1729.4 800.2L1732.6 801.1L1735.8 802.4L1739 803.6L1742.2 804.3L1745.4 802.1L1748.6 799.9L1751.8 797.7L1755 795.5L1758.2 793.2L1761.4 791L1764.6 788.7L1767.8 786.5L1771 783.3L1774.2 780.1L1777.4 776.9L1780.6 776.8L1783.8 777.2L1787 777.6L1790.2 778.4L1793.4 779.3L1796.6 780.3L1799.8 781.2L1803 783.6L1806.2 786.4L1809.4 789.3L1812.6 791.3L1815.8 792.9L1819 794.3L1822.2 795.4L1825.4 796.5L1828.6 798.7L1831.8 801L1835 803.4L1838.2 806.6L1841.4 809" stroke="#e8101a" stroke-width="1.1" stroke-dasharray="1.2 1.8" fill="none"/><path d="M1843 783.5H1860" stroke="#c9ccdc" stroke-width="1" stroke-dasharray="2 2"/><path d="M2 861H1860M2 931.5H1860" stroke="#c0c4d6" stroke-width="1" stroke-dasharray="2 3" fill="none"/><path d="M1.7 925.2L5 931.5L10 928.9L14.2 931.5L18.4 948.6L20.9 949.4L25.1 944.4L33.4 935.2L40.1 933.5L43.4 931.5L48.4 893.5L52.6 875.9L56.8 879.3L62.6 876.4L66 878.8L71.8 903.5L77.7 921.8L83.5 923L87.7 922.7L91.9 914.3L96.9 911.8L100.2 916.8L105.2 933.5L110.2 947.7L115.2 940.2L120.3 920.2L123.6 914.3L133.6 908.5L138.6 893.8L145.3 894.3L148.6 901L152 895.5L155.3 905.1L160.3 906L167 925.2L172 942.7L174.5 943.6L180.4 930.2L187.1 910.2L192.1 908.5L197.1 910.2L200.4 905.1L205.4 875.1L210.4 861.7L218.8 841.7L222.1 843L228.8 854.2L235.5 866.7L240.5 870.1L245.5 861.7L251.4 848.4L254.7 851.7L260.5 878.4L267.2 918.5L273.9 936.9L279.7 944.4L283.9 928.5L290.6 901L295.6 904.3L300.6 921.8L305.6 936.9L310.3 941.5L315.3 941.9L318.4 923.5L325 870.1L327.5 856.7L330.9 868.4L337.6 874.2L343.4 852.5L346.7 860.1L350.1 867.6L355.1 870.1L360.1 875.1L363.4 888.4L370.1 900.1L373.5 895.1L381.8 850L388.5 869.2L395.2 880.1L400.2 898.5L403.5 916.8L405.2 923.5L410.2 913.5L415.2 906L418.6 908.5L423.6 925.2L426.9 939.4L433.6 941.1L440.3 947.7L445.3 947.2L448.6 944.4L453.6 921.8L458.6 911.8L462 923.5L468.7 950.2L472 951.1L477 950.2L482 951.1L487 952.7L493.7 951.1L498.7 947.7L505.4 928.5L510.4 920.2L515.4 898.5L520.4 861.7L523.8 853.4L528.8 849.2L535.5 846.7L540.5 859.2L543.8 866.7L548.8 888.4L553.8 896.8L558.9 911.8L562.2 936.9L568 947.7L573.9 935.2L580.6 903.5L585.6 894.8L593.9 913.5L600.6 929.4L605.6 925.2L610.6 910.2L619.5 889.7L622.8 888.6L628.4 898.5L635 911.8L641.7 937.7L645.1 938.2L653.4 913.5L660.1 865.1L663.4 864.7L670.1 906.8L673.4 916.5L677.6 916.5L681.8 914.3L688.5 915.2L692.7 919.3L696.8 896.8L701.8 869.2L705.2 864.7L708.5 870.1L711 883.4L715.2 879.3L721 847.5L726.9 845.4L731.9 845L736.9 842.5L743.6 850L747.8 850.9L751.9 849.2L758.6 860.1L765.3 866.7L772 881.4L776.2 881.8L781.2 874.6L785.3 880.1L788.7 898.5L795.4 913.5L802 920.5L805.4 918.5L813.7 890.1L820.4 880.1L823.8 873.4L828.8 850.9L833.8 855L838.8 853.4L843.8 844.2L853.8 842L858.8 843L865.5 842.5L870.5 851.7L875.5 860.1L880.5 848.4L883.9 849.2L890.6 869.2L894.7 870.9L900.6 861.7L907.3 849.7L913.9 860.1L917.3 876.8L923.1 901.8L926.5 901.8L930 891.8L932.8 885.1L938.4 864.2L941.7 873.4L945 888.4L948.4 900.1L953.4 910.2L958.4 925.2L961.7 929.4L965.9 918.5L970.9 909.8L975.1 914.3L981.8 914.8L985.1 920.2L990.1 947.7L997.6 947.7L1001.8 936.9L1008.5 907.7L1011.8 910.2L1015.2 902.6L1018.5 903.5L1021.9 898.1L1025.2 899.3L1031.9 878.1L1035.2 878.8L1040.2 898.5L1044.4 904.3L1048.6 895.1L1053.6 851.7L1059.4 851.7L1063.6 860.1L1068.6 878.4L1073.6 911.8L1077 938.5L1079.5 946.9L1083.7 931.9L1090.3 876.8L1095.3 861.4L1098.7 865.1L1102.9 880.9L1107 880.9L1113.7 866.7L1118.7 860.9L1123.7 858.4L1130.4 859.2L1137.1 845L1142.1 843L1145.4 846.7L1148.8 844.7L1153.8 840.8L1158.8 846.7L1165.5 857.5L1172.2 856.7L1175.5 851.7L1180.5 849.2L1185.5 841.7L1190.5 840.8L1193.9 845L1202.2 865.9L1205.6 861.7L1211.4 848.4L1217.3 862.6L1220.6 862.6L1224.8 851.7L1228.1 854.2L1232.3 895.1L1239.5 926L1242.8 926.3L1246.7 941.9L1250 945.2L1255 935.2L1260 921.8L1265.1 913.2L1269.2 913.5L1273.4 921L1278.4 926L1283.4 936.9L1288.4 946.6L1291.8 946.1L1296.8 931.9L1300.1 903.5L1306.8 874.2L1311.8 869.2L1315.2 870.9L1321.8 890.9L1325.2 889.3L1330.2 866.7L1335.2 847.5L1339.4 855L1345.2 895.1L1348.6 906.8L1351.9 909.3L1356.9 923.5L1361.9 950.2L1366.9 942.7L1371.9 925.2L1376.1 920.2L1381.1 928.5L1385.3 926L1390.3 926.5L1395.3 931L1400.3 943.6L1403.7 951.9L1410.4 949.9L1415.4 950.2L1420.4 941.9L1425.4 928.5L1430.4 905.1L1435.4 879.3L1440.4 874.2L1445.4 865.9L1450.4 850.9L1455.4 843.7L1460.5 844.2L1467.1 852.5L1470.5 848L1475.5 842.5L1482.2 842.5L1487.2 851.7L1492.2 875.1L1498.9 886.8L1503.9 861.7L1508.1 850L1510.6 860.1L1515.6 878.4L1518.9 878.1L1523.9 850.9L1527.3 854.2L1530.6 852.5L1533.9 859.2L1539 853L1544 855L1550.3 868L1553.3 863.4L1559.2 858.4L1563.4 875.1L1566.7 885.1L1570 895.1L1575.1 885.1L1579.2 890.1L1583.4 905.1L1588.4 936.9L1593.4 945.2L1598.4 951.9L1603.4 941.9L1608.5 931L1616.8 930.5L1621.8 936.9L1626.8 946.9L1631.8 946.6L1635.2 942.7L1640.2 947.7L1643.5 946.6L1649.4 930.2L1653.5 937.7L1658.6 938.5L1662.7 930.2L1666.9 936L1671.9 936.9L1676.9 940.2L1681.9 939.4L1685.3 928.5L1690.3 890.1L1693.6 870.1L1697 859.2L1702 870.1L1707 885.1L1712 915.2L1717 950.2L1723.7 943.6L1728.7 920.2L1733.7 928.5L1738.7 950.2L1742.1 944.4L1747.1 926.9L1752.1 909.3L1755.4 908.5L1760.4 898.5L1767.1 876.8L1773.8 845.9L1778.8 853.4L1783.8 868.4L1790.5 880.9L1797.2 884.3L1800.5 885.1L1805.5 896.8L1810.5 925.2L1815.6 944.4L1818.9 940.2L1823.9 936.9L1827.2 941.9L1832.3 950.2L1837.3 950.2L1841.4 944.4" stroke="#87ceeb" stroke-width="1.4" fill="none" stroke-linejoin="round"/><path d="M1.7 921.8C2.2 922.7 3.6 925.7 5 926.9C6.4 928 8.5 927.8 10 928.5C11.6 929.2 12.5 928.4 14.2 931C15.9 933.7 18.2 942 20 944.4C21.9 946.8 22.8 946.3 25.1 945.2C27.3 944.1 30.6 939.8 33.4 937.7C36.2 935.6 39.8 935.1 41.8 932.7C43.7 930.3 43.4 930.3 45.1 923.5C46.8 916.7 49.8 898.3 51.8 891.8C53.7 885.2 55.1 886.3 56.8 884.3C58.5 882.3 60.3 880.7 61.8 879.8C63.3 878.8 64.6 877.3 66 878.8C67.4 880.2 68.3 882.9 70.1 888.4C72 894 74.9 906.7 76.8 911.8C78.8 917 80 917.8 81.8 919.3C83.6 920.9 85.7 921.7 87.7 921C89.6 920.3 91.7 916.4 93.5 915.2C95.3 913.9 96.9 911.8 98.5 913.5C100.2 915.2 101.6 920.9 103.5 925.2C105.5 929.5 108.6 936.6 110.2 939.4C111.9 942.2 111.9 943.7 113.6 941.9C115.2 940.1 118 932.7 120.3 928.5C122.5 924.4 124.7 919.9 126.9 916.8C129.2 913.8 131.4 913.1 133.6 910.2C135.8 907.2 138.3 901.6 140.3 899.3C142.2 897 143.6 896.7 145.3 896.5C147 896.2 148.9 897.3 150.3 897.6C151.7 898 152 897.5 153.7 898.5C155.3 899.4 158.4 901 160.3 903.5C162.3 906 163.1 907.9 165.3 913.5C167.6 919.1 171.7 933 173.7 936.9C175.6 940.8 175.4 938.5 177 936.9C178.7 935.2 181.5 930.9 183.7 926.9C185.9 922.8 188.2 915.4 190.4 912.7C192.6 909.9 195.4 911.5 197.1 910.5C198.7 909.5 198.7 911 200.4 906.8C202.1 902.6 204.9 892.3 207.1 885.1C209.3 877.9 211.6 869.5 213.8 863.4C216 857.3 218.8 851.1 220.5 848.4C222.1 845.6 222.1 845.7 223.8 846.7C225.5 847.7 228.5 851.7 230.5 854.2C232.4 856.7 233.8 859.6 235.5 861.7C237.2 863.8 238.8 866.5 240.5 866.7C242.2 867 243.6 865.5 245.5 863.4C247.5 861.3 250.5 855.7 252.2 854.2C253.9 852.7 254.1 851.8 255.5 854.2C256.9 856.6 258.6 860.5 260.5 868.4C262.5 876.3 265 891.8 267.2 901.8C269.5 911.8 271.8 922.3 273.9 928.5C276 934.8 277.5 940.5 279.7 939.4C282 938.3 284.6 927.3 287.3 921.8C289.9 916.4 293.4 907.9 295.6 906.8C297.8 905.7 298.7 910.7 300.6 915.2C302.6 919.6 305.7 929.9 307.3 933.5C308.9 937.2 308.8 935.8 310 936.9C311.2 937.9 312.8 943.4 314.5 939.8C316.2 936.2 318 926 320 915.2C322.1 904.4 324.8 882.5 326.7 875.1C328.6 867.7 329.8 871.3 331.7 870.9C333.7 870.5 336.2 874.4 338.4 872.6C340.6 870.8 343.1 861.3 345.1 860.1C347 858.8 347.9 863.1 350.1 865.1C352.3 867 356.2 869.2 358.4 871.7C360.7 874.2 361.5 876.5 363.4 880.1C365.4 883.7 368.5 891.4 370.1 893.5C371.8 895.5 371.2 898 373.5 892.6C375.7 887.2 381.3 866 383.5 860.9C385.7 855.7 384.9 859.2 386.8 861.7C388.8 864.2 393 870.9 395.2 875.9C397.4 880.9 398.5 885.8 400.2 891.8C401.9 897.8 403.5 908.1 405.2 911.8C406.9 915.6 408.3 914.9 410.2 914.3C412.2 913.8 415.2 908.9 416.9 908.5C418.6 908.1 418.6 908.2 420.2 911.8C421.9 915.4 424.7 925.9 426.9 930.2C429.1 934.5 431.1 935.1 433.6 937.7C436.1 940.4 439.4 945 441.9 946.1C444.4 947.2 446.7 946.8 448.6 944.4C450.6 942 452 936.2 453.6 931.9C455.3 927.6 457 919.1 458.6 918.5C460.3 918 461.7 923.9 463.7 928.5C465.6 933.1 468.1 942.6 470.3 946.1C472.6 949.5 474.8 948.6 477 949.4C479.2 950.2 481.5 950.5 483.7 951.1C485.9 951.6 488.1 952.7 490.4 952.7C492.6 952.7 494.8 952.9 497.1 951.1C499.3 949.3 501.5 945.9 503.7 941.9C506 937.9 508.2 934.7 510.4 926.9C512.6 919.1 515.1 904.6 517.1 895.1C519 885.7 520.2 876.6 522.1 870.1C524.1 863.5 526.6 859.2 528.8 855.9C531 852.5 533.5 850.2 535.5 850C537.4 849.9 538.3 850.3 540.5 855C542.7 859.8 546 871.2 548.8 878.4C551.6 885.7 555 891.8 557.2 898.5C559.4 905.1 560.2 911.5 562.2 918.5C564.1 925.5 566.6 937.2 568.9 940.2C571.1 943.3 573.6 940.5 575.6 936.9C577.5 933.3 578.6 924.6 580.6 918.5C582.5 912.4 585.3 902.4 587.2 900.1C589.2 897.9 590.3 901.5 592.3 905.1C594.2 908.8 597 918.6 598.9 921.8C600.9 925 602 925.7 603.9 924.4C605.9 923 608 918 610.6 913.5C613.2 909 617.2 900.7 619.5 897.2C621.8 893.7 622.7 892.4 624.5 892.6C626.3 892.8 628.1 895.8 630 898.5C631.9 901.1 633.9 903.6 635.9 908.5C637.8 913.4 640.2 923.7 641.7 927.7C643.2 931.6 643.7 931.9 645.1 932.2C646.4 932.5 648.1 933.9 650.1 929.4C652 924.9 654.5 914.2 656.7 905.1C659 896 661.5 878.4 663.4 874.7C665.4 871.1 666.5 877.5 668.4 883.4C670.4 889.3 673.2 905.2 675.1 910.2C677.1 915.1 678.2 912.4 680.1 913.2C682.1 913.9 684.6 914.2 686.8 914.8C689 915.4 691.5 919 693.5 916.8C695.4 914.7 696.5 908.9 698.5 901.8C700.4 894.7 703.5 879.2 705.2 874.2C706.8 869.3 707.4 871.4 708.5 872.1C709.6 872.8 710.7 877.2 711.9 878.4C713 879.6 713.8 882 715.2 879.3C716.6 876.5 718.5 866.3 720.2 861.7C721.9 857.1 723.5 854 725.2 851.7C726.9 849.4 728.1 849.2 730.2 848C732.3 846.9 735 844.4 737.7 844.7C740.5 845 744.6 849.3 746.9 850C749.3 850.8 750 847.8 751.9 849.2C753.9 850.6 756.1 855.3 758.6 858.4C761.1 861.4 764.5 864.2 767 867.6C769.5 871 772 876.8 773.7 878.8C775.3 880.7 775.6 879.7 777 879.3C778.4 878.8 780.3 874.9 782 875.9C783.7 876.9 785.1 880.5 787 885.1C789 889.7 790.9 898 793.7 903.5C796.5 908.9 800.7 917.4 803.7 917.7C806.8 918 809.3 910.4 812.1 905.1C814.9 899.9 817.6 893.5 820.4 885.9C823.2 878.4 826.5 864.9 828.8 860.1C831 855.2 832.1 857.5 833.8 856.7C835.4 855.9 836.8 856.7 838.8 855C840.7 853.4 843 848.6 845.5 846.7C848 844.7 851 843.9 853.8 843.4C856.6 842.8 859.9 843.5 862.2 843.7C864.4 843.8 865.2 842.4 867.2 844.2C869.1 845.9 871.9 852.7 873.9 854.2C875.8 855.7 877.2 853.9 878.9 853.4C880.5 852.8 882.2 849.6 883.9 850.9C885.6 852.1 887.2 858.4 888.9 860.9C890.6 863.4 892 865.8 893.9 865.9C895.9 866 898.4 863.7 900.6 861.7C902.8 859.8 905.3 855 907.3 854.2C909.2 853.4 910.6 853.8 912.3 856.7C913.9 859.6 915.3 865.8 917.3 871.7C919.2 877.7 921.9 888.4 924 892.6C926 896.8 927.9 897.5 929.5 896.8C931.1 896.1 931.9 892.3 933.7 888.4C935.4 884.5 938.4 875.1 940 873.4C941.6 871.7 942 875.4 943.4 878.4C944.8 881.5 946.4 886.8 948.4 891.8C950.3 896.8 952.8 903.2 955.1 908.5C957.3 913.8 960.1 921.2 961.7 923.5C963.4 925.9 963.4 924.4 965.1 922.7C966.7 921 969.5 914.8 971.8 913.5C974 912.2 976.5 914.3 978.4 914.8C980.4 915.4 981.5 913.2 983.4 916.8C985.4 920.5 988.2 932.4 990.1 936.9C992.1 941.3 993.5 942.3 995.1 943.6C996.8 944.8 998.5 946.3 1000.1 944.4C1001.8 942.4 1003.5 936 1005.2 931.9C1006.8 927.7 1008.2 923.2 1010.2 919.3C1012.1 915.4 1014.6 911.5 1016.8 908.5C1019.1 905.4 1021.9 902.9 1023.5 901C1025.2 899 1025.2 900 1026.9 896.8C1028.5 893.6 1031.6 883.2 1033.5 881.8C1035.5 880.4 1036.6 885.5 1038.6 888.4C1040.5 891.4 1043.6 897.6 1045.2 899.3C1046.9 901 1046.9 903.9 1048.6 898.5C1050.3 893 1053 873.7 1055.3 866.7C1057.5 859.8 1060 857 1061.9 856.7C1063.9 856.4 1065.3 860.3 1067 865.1C1068.6 869.8 1070.3 876.2 1072 885.1C1073.6 894 1075.6 910.3 1077 918.5C1078.4 926.7 1079.2 931.7 1080.3 934.4C1081.4 937 1082.3 939 1083.7 934.4C1085 929.8 1086.7 916.7 1088.7 906.8C1090.6 896.9 1093.5 881.1 1095.3 875.1C1097.2 869.1 1097.8 870.3 1099.5 870.9C1101.2 871.5 1103.8 877.6 1105.4 878.8C1106.9 879.9 1107 879.5 1108.7 877.6C1110.4 875.7 1113.2 870.2 1115.4 867.6C1117.6 864.9 1119.6 863.1 1122.1 861.7C1124.6 860.3 1127.6 861.6 1130.4 859.2C1133.2 856.9 1136.5 849.6 1138.8 847.5C1141 845.4 1142.1 847.1 1143.8 846.7C1145.4 846.3 1147.1 845.7 1148.8 845C1150.5 844.3 1151.9 842 1153.8 842.5C1155.7 843.1 1158.3 846.1 1160.5 848.4C1162.7 850.6 1164.9 854.6 1167.2 855.9C1169.4 857.1 1171.6 856.7 1173.8 855.9C1176.1 855 1178.3 853 1180.5 850.9C1182.7 848.8 1185.3 844.9 1187.2 843.4C1189.2 841.8 1190 838.9 1192.2 841.7C1194.4 844.5 1198.3 857 1200.6 860.1C1202.8 863.1 1203.6 861.1 1205.6 860.1C1207.5 859 1210 853.7 1212.3 853.7C1214.5 853.7 1216.7 860 1218.9 860.1C1221.2 860.1 1223.9 854.2 1225.6 854.2C1227.3 854.2 1227.3 854.3 1229 860.1C1230.6 865.8 1233.7 879.9 1235.6 888.4C1237.5 897 1239 905.8 1240.3 911.4C1241.6 917 1241.7 917.3 1243.3 921.8C1245 926.4 1248.1 935.9 1250 938.5C1252 941.2 1253.1 940.2 1255 937.7C1257 935.2 1259.6 927.1 1261.7 923.5C1263.8 920 1265.6 916.9 1267.6 916.5C1269.5 916.1 1271.6 919.6 1273.4 921C1275.2 922.5 1276.5 922.5 1278.4 925.2C1280.4 927.8 1283.1 933.8 1285.1 936.9C1287 939.9 1288.2 944.1 1290.1 943.6C1292.1 943 1294.8 939.7 1296.8 933.5C1298.7 927.4 1299.6 916.1 1301.8 906.8C1304 897.5 1307.9 883 1310.1 877.6C1312.4 872.2 1313.2 873 1315.2 874.2C1317.1 875.5 1320 883 1321.8 885.1C1323.6 887.2 1324.3 889.3 1326 886.8C1327.7 884.3 1330 875.1 1331.9 870.1C1333.7 865.1 1335.5 858.7 1336.9 856.7C1338.3 854.8 1339.1 856.2 1340.2 858.4C1341.3 860.6 1342.2 864.2 1343.5 870.1C1344.9 875.9 1346.6 886.5 1348.6 893.5C1350.5 900.4 1353.3 905.4 1355.2 911.8C1357.2 918.2 1358.9 927.1 1360.3 931.9C1361.6 936.6 1362.5 938.7 1363.6 940.2C1364.7 941.8 1365.5 942.7 1366.9 941.1C1368.3 939.4 1370.3 933 1371.9 930.2C1373.6 927.4 1375.3 925 1377 924.4C1378.6 923.7 1380 925.7 1382 926C1383.9 926.3 1386.7 925.3 1388.6 926C1390.6 926.7 1391.7 927.6 1393.7 930.2C1395.6 932.8 1398.4 938.8 1400.3 941.9C1402.3 945 1403.7 947.2 1405.3 948.6C1407 950 1408.7 950 1410.4 950.2C1412 950.5 1413.7 951.1 1415.4 950.2C1417 949.4 1418.7 948 1420.4 945.2C1422 942.4 1423.7 939.1 1425.4 933.5C1427.1 928 1428.7 918.8 1430.4 911.8C1432.1 904.9 1433.7 896.9 1435.4 891.8C1437.1 886.6 1438.5 885.2 1440.4 880.9C1442.4 876.6 1444.9 870.9 1447.1 865.9C1449.3 860.9 1451.8 854.2 1453.8 850.9C1455.7 847.5 1457.1 846.6 1458.8 845.9C1460.5 845.1 1462.1 845.8 1463.8 846.4C1465.5 846.9 1467.1 849 1468.8 849.2C1470.5 849.4 1472.2 848.4 1473.8 847.5C1475.5 846.7 1477.3 844.9 1478.8 844.2C1480.4 843.5 1481.3 841.8 1483 843.4C1484.7 844.9 1487 849.3 1488.9 853.4C1490.7 857.4 1492.2 863 1493.9 867.6C1495.5 872.2 1497.2 880.8 1498.9 880.9C1500.5 881.1 1502.2 872.3 1503.9 868.4C1505.6 864.5 1507.2 857.8 1508.9 857.5C1510.6 857.3 1512.4 863.9 1513.9 866.7C1515.4 869.5 1516.4 875.4 1518.1 874.2C1519.7 873.1 1521.8 863.3 1523.9 860.1C1526 856.9 1528.9 855.6 1530.6 855C1532.3 854.5 1532.6 856.9 1533.9 856.7C1535.3 856.6 1537.3 854.6 1539 854.2C1540.6 853.8 1542.1 852.9 1544 854.2C1545.9 855.5 1548.5 860.7 1550.3 862.1C1552.2 863.5 1553.4 862.9 1555 862.6C1556.6 862.2 1558.5 858.8 1560 860.1C1561.6 861.3 1562.7 865.8 1564.2 870.1C1565.7 874.4 1567.4 883.6 1569.2 885.9C1571 888.3 1573.4 884.1 1575.1 884.3C1576.7 884.4 1577.8 884.1 1579.2 886.8C1580.6 889.4 1581.6 892.9 1583.4 900.1C1585.2 907.4 1588.1 923.4 1590.1 930.2C1592 937 1593.7 938.4 1595.1 941.1C1596.5 943.7 1597.3 945.5 1598.4 946.1C1599.5 946.6 1600.1 946.2 1601.8 944.4C1603.4 942.6 1606.2 937.4 1608.5 935.2C1610.7 933.1 1613.2 932 1615.1 931.5C1617.1 931.1 1618.2 931 1620.1 932.7C1622.1 934.4 1624.9 939.9 1626.8 941.9C1628.8 943.8 1630.3 944.1 1631.8 944.4C1633.4 944.7 1634.3 943.3 1636 943.6C1637.7 943.8 1639.8 947.5 1641.9 946.1C1643.9 944.7 1646.6 936.9 1648.5 935.2C1650.5 933.5 1651.9 935.8 1653.5 936C1655.2 936.3 1656.9 937.3 1658.6 936.9C1660.2 936.5 1661.9 933.7 1663.6 933.5C1665.2 933.4 1666.6 935.2 1668.6 936C1670.5 936.9 1673.3 938 1675.3 938.5C1677.2 939.1 1678.6 940.8 1680.3 939.4C1681.9 938 1683.6 935.9 1685.3 930.2C1687 924.5 1688.6 914.1 1690.3 905.1C1692 896.2 1693.6 882.7 1695.3 876.8C1697 870.8 1698.9 869.9 1700.3 869.2C1701.7 868.5 1702.3 869.9 1703.7 872.6C1705 875.2 1707 878 1708.7 885.1C1710.3 892.2 1712.3 907.4 1713.7 915.2C1715.1 923 1715.6 927.7 1717 931.9C1718.4 936 1720.6 939.1 1722 940.2C1723.4 941.3 1724 940.9 1725.4 938.5C1726.8 936.2 1729 927.7 1730.4 926C1731.8 924.4 1732.3 926.2 1733.7 928.5C1735.1 930.9 1737.1 938 1738.7 940.2C1740.4 942.4 1741.8 945 1743.7 941.9C1745.7 938.8 1747.9 928 1750.4 921.8C1752.9 915.7 1756.5 909.9 1758.8 905.1C1761 900.4 1761.8 898.7 1763.8 893.5C1765.7 888.2 1768.2 880 1770.5 873.4C1772.7 866.9 1775.2 856.4 1777.1 854.2C1779.1 852 1780.5 857.1 1782.2 860.1C1783.8 863 1785.5 868.7 1787.2 871.7C1788.8 874.8 1790.2 876.5 1792.2 878.4C1794.1 880.4 1797.2 882.3 1798.9 883.4C1800.5 884.5 1800.8 882.6 1802.2 885.1C1803.6 887.6 1805.3 890.9 1807.2 898.5C1809.2 906 1812.2 923.8 1813.9 930.2C1815.6 936.6 1815.6 935.5 1817.2 936.9C1818.9 938.2 1822.2 937.8 1823.9 938.2C1825.6 938.6 1825.9 937.9 1827.2 939.4C1828.6 940.8 1830.6 945.2 1832.3 946.9C1833.9 948.6 1835.7 949.5 1837.3 949.4C1838.8 949.3 1840.7 946.6 1841.4 946.1" stroke="#ff0000" stroke-width="1.6" fill="none" stroke-linejoin="round"/><g shape-rendering="crispEdges" fill="#c9cde0"><rect x="1" y="3" width="1860" height="1"/><rect x="1" y="3" width="1" height="956"/><rect x="1860" y="3" width="1" height="952"/><rect x="0" y="696" width="1860" height="2.6" fill="#b0b6cc"/><rect x="0" y="835" width="1860" height="2.6" fill="#b0b6cc"/><rect x="1" y="955" width="1860" height="1"/></g><g font-family="Liberation Sans, Arial, sans-serif"><rect x="1860" y="26.3" width="4" height="1" fill="#c9cde0"/><text x="1865" y="30.8" font-size="11" fill="#dfe2ee" textLength="35.7" lengthAdjust="spacingAndGlyphs">1.23130</text><rect x="1860" y="52.1" width="4" height="1" fill="#c9cde0"/><text x="1865" y="56.6" font-size="11" fill="#dfe2ee" textLength="35.7" lengthAdjust="spacingAndGlyphs">1.22480</text><rect x="1860" y="77.9" width="4" height="1" fill="#c9cde0"/><text x="1865" y="82.4" font-size="11" fill="#dfe2ee" textLength="35.7" lengthAdjust="spacingAndGlyphs">1.21830</text><rect x="1860" y="103.7" width="4" height="1" fill="#c9cde0"/><text x="1865" y="108.2" font-size="11" fill="#dfe2ee" textLength="35.7" lengthAdjust="spacingAndGlyphs">1.21180</text><rect x="1860" y="129.5" width="4" height="1" fill="#c9cde0"/><text x="1865" y="134" font-size="11" fill="#dfe2ee" textLength="35.7" lengthAdjust="spacingAndGlyphs">1.20530</text><rect x="1860" y="155.3" width="4" height="1" fill="#c9cde0"/><text x="1865" y="159.8" font-size="11" fill="#dfe2ee" textLength="35.7" lengthAdjust="spacingAndGlyphs">1.19880</text><rect x="1860" y="181.1" width="4" height="1" fill="#c9cde0"/><text x="1865" y="185.6" font-size="11" fill="#dfe2ee" textLength="35.7" lengthAdjust="spacingAndGlyphs">1.19230</text><rect x="1860" y="206.9" width="4" height="1" fill="#c9cde0"/><text x="1865" y="211.4" font-size="11" fill="#dfe2ee" textLength="35.7" lengthAdjust="spacingAndGlyphs">1.18580</text><rect x="1860" y="232.7" width="4" height="1" fill="#c9cde0"/><text x="1865" y="237.2" font-size="11" fill="#dfe2ee" textLength="35.7" lengthAdjust="spacingAndGlyphs">1.17930</text><rect x="1860" y="258.5" width="4" height="1" fill="#c9cde0"/><text x="1865" y="263" font-size="11" fill="#dfe2ee" textLength="35.7" lengthAdjust="spacingAndGlyphs">1.17280</text><rect x="1860" y="284.3" width="4" height="1" fill="#c9cde0"/><text x="1865" y="288.8" font-size="11" fill="#dfe2ee" textLength="35.7" lengthAdjust="spacingAndGlyphs">1.16630</text><rect x="1860" y="310.1" width="4" height="1" fill="#c9cde0"/><text x="1865" y="314.6" font-size="11" fill="#dfe2ee" textLength="35.7" lengthAdjust="spacingAndGlyphs">1.15980</text><rect x="1860" y="335.9" width="4" height="1" fill="#c9cde0"/><text x="1865" y="340.4" font-size="11" fill="#dfe2ee" textLength="35.7" lengthAdjust="spacingAndGlyphs">1.15330</text><rect x="1860" y="361.7" width="4" height="1" fill="#c9cde0"/><text x="1865" y="366.2" font-size="11" fill="#dfe2ee" textLength="35.7" lengthAdjust="spacingAndGlyphs">1.14680</text><rect x="1860" y="387.5" width="4" height="1" fill="#c9cde0"/><text x="1865" y="392" font-size="11" fill="#dfe2ee" textLength="35.7" lengthAdjust="spacingAndGlyphs">1.14030</text><rect x="1860" y="413.3" width="4" height="1" fill="#c9cde0"/><text x="1865" y="417.8" font-size="11" fill="#dfe2ee" textLength="35.7" lengthAdjust="spacingAndGlyphs">1.13380</text><rect x="1860" y="439.1" width="4" height="1" fill="#c9cde0"/><text x="1865" y="443.6" font-size="11" fill="#dfe2ee" textLength="35.7" lengthAdjust="spacingAndGlyphs">1.12730</text><rect x="1860" y="464.9" width="4" height="1" fill="#c9cde0"/><text x="1865" y="469.4" font-size="11" fill="#dfe2ee" textLength="35.7" lengthAdjust="spacingAndGlyphs">1.12080</text><rect x="1860" y="490.7" width="4" height="1" fill="#c9cde0"/><text x="1865" y="495.2" font-size="11" fill="#dfe2ee" textLength="35.7" lengthAdjust="spacingAndGlyphs">1.11430</text><rect x="1860" y="516.5" width="4" height="1" fill="#c9cde0"/><text x="1865" y="521" font-size="11" fill="#dfe2ee" textLength="35.7" lengthAdjust="spacingAndGlyphs">1.10780</text><rect x="1860" y="542.3" width="4" height="1" fill="#c9cde0"/><text x="1865" y="546.8" font-size="11" fill="#dfe2ee" textLength="35.7" lengthAdjust="spacingAndGlyphs">1.10130</text><rect x="1860" y="568.1" width="4" height="1" fill="#c9cde0"/><text x="1865" y="572.6" font-size="11" fill="#dfe2ee" textLength="35.7" lengthAdjust="spacingAndGlyphs">1.09480</text><rect x="1860" y="593.9" width="4" height="1" fill="#c9cde0"/><text x="1865" y="598.4" font-size="11" fill="#dfe2ee" textLength="35.7" lengthAdjust="spacingAndGlyphs">1.08830</text><rect x="1860" y="619.7" width="4" height="1" fill="#c9cde0"/><text x="1865" y="624.2" font-size="11" fill="#dfe2ee" textLength="35.7" lengthAdjust="spacingAndGlyphs">1.08180</text><rect x="1860" y="645.5" width="4" height="1" fill="#c9cde0"/><text x="1865" y="650" font-size="11" fill="#dfe2ee" textLength="35.7" lengthAdjust="spacingAndGlyphs">1.07530</text><rect x="1860" y="671.3" width="4" height="1" fill="#c9cde0"/><text x="1865" y="675.8" font-size="11" fill="#dfe2ee" textLength="35.7" lengthAdjust="spacingAndGlyphs">1.06880</text><rect x="1863" y="264.1" width="43" height="10.5" fill="#ff0000"/><text x="1865" y="273.4" font-size="11" fill="#7a0c14" textLength="35.7" lengthAdjust="spacingAndGlyphs">1.17013</text><rect x="1863" y="300.2" width="43" height="10.5" fill="#22a596"/><text x="1865" y="309.4" font-size="11" fill="#0f4c63" textLength="35.7" lengthAdjust="spacingAndGlyphs">1.16089</text><rect x="1863" y="346.5" width="43" height="10.5" fill="#ff0000"/><text x="1865" y="355.8" font-size="11" fill="#7a0c14" textLength="35.7" lengthAdjust="spacingAndGlyphs">1.14921</text><rect x="1863" y="375.2" width="43" height="10.8" fill="#ff0000"/><text x="1865" y="384.6" font-size="11" fill="#7a0c14" textLength="35.7" lengthAdjust="spacingAndGlyphs">1.14203</text><text x="1865" y="707.3" font-size="11" fill="#dfe2ee" textLength="42" lengthAdjust="spacingAndGlyphs">0.017271</text><text x="1865" y="787.5" font-size="11" fill="#dfe2ee" textLength="42" lengthAdjust="spacingAndGlyphs">0.000000</text><text x="1864.6" y="833.4" font-size="11" fill="#dfe2ee" textLength="45" lengthAdjust="spacingAndGlyphs">-0.010383</text><rect x="1860" y="697.7" width="4" height="1" fill="#c9cde0"/><rect x="1860" y="783" width="4" height="1" fill="#c9cde0"/><rect x="1860" y="833" width="4" height="1" fill="#c9cde0"/><text x="1865.3" y="847.2" font-size="11" fill="#dfe2ee" textLength="30.7" lengthAdjust="spacingAndGlyphs">100.00</text><text x="1864.6" y="865.2" font-size="11" fill="#dfe2ee" textLength="25.4" lengthAdjust="spacingAndGlyphs">80.00</text><text x="1864.6" y="935.6" font-size="11" fill="#dfe2ee" textLength="25.4" lengthAdjust="spacingAndGlyphs">20.00</text><text x="1864.6" y="953.6" font-size="11" fill="#dfe2ee" textLength="20.2" lengthAdjust="spacingAndGlyphs">0.00</text><rect x="1860" y="837.5" width="4" height="1" fill="#c9cde0"/><rect x="1860" y="860.5" width="4" height="1" fill="#c9cde0"/><rect x="1860" y="931" width="4" height="1" fill="#c9cde0"/><rect x="1860" y="954" width="4" height="1" fill="#c9cde0"/><rect x="1" y="955" width="1" height="4" fill="#c9cde0"/><text x="1.8" y="968" font-size="11" fill="#dfe2ee" textLength="50.3" lengthAdjust="spacingAndGlyphs">16 Jul 2019</text><rect x="103.4" y="955" width="1" height="4" fill="#c9cde0"/><text x="104.2" y="968" font-size="11" fill="#dfe2ee" textLength="54.7" lengthAdjust="spacingAndGlyphs">29 Aug 2019</text><rect x="205.7" y="955" width="1" height="4" fill="#c9cde0"/><text x="206.5" y="968" font-size="11" fill="#dfe2ee" textLength="53" lengthAdjust="spacingAndGlyphs">14 Oct 2019</text><rect x="308.1" y="955" width="1" height="4" fill="#c9cde0"/><text x="308.9" y="968" font-size="11" fill="#dfe2ee" textLength="55.2" lengthAdjust="spacingAndGlyphs">27 Nov 2019</text><rect x="410.5" y="955" width="1" height="4" fill="#c9cde0"/><text x="411.3" y="968" font-size="11" fill="#dfe2ee" textLength="53.6" lengthAdjust="spacingAndGlyphs">14 Jan 2020</text><rect x="512.9" y="955" width="1" height="4" fill="#c9cde0"/><text x="513.6" y="968" font-size="11" fill="#dfe2ee" textLength="54.7" lengthAdjust="spacingAndGlyphs">27 Feb 2020</text><rect x="615.2" y="955" width="1" height="4" fill="#c9cde0"/><text x="616" y="968" font-size="11" fill="#dfe2ee" textLength="52.5" lengthAdjust="spacingAndGlyphs">13 Apr 2020</text><rect x="717.6" y="955" width="1" height="4" fill="#c9cde0"/><text x="718.4" y="968" font-size="11" fill="#dfe2ee" textLength="56.3" lengthAdjust="spacingAndGlyphs">27 May 2020</text><rect x="820" y="955" width="1" height="4" fill="#c9cde0"/><text x="820.8" y="968" font-size="11" fill="#dfe2ee" textLength="50.3" lengthAdjust="spacingAndGlyphs">10 Jul 2020</text><rect x="922.3" y="955" width="1" height="4" fill="#c9cde0"/><text x="923.1" y="968" font-size="11" fill="#dfe2ee" textLength="54.7" lengthAdjust="spacingAndGlyphs">25 Aug 2020</text><rect x="1024.7" y="955" width="1" height="4" fill="#c9cde0"/><text x="1025.5" y="968" font-size="11" fill="#dfe2ee" textLength="47.6" lengthAdjust="spacingAndGlyphs">8 Oct 2020</text><rect x="1127.1" y="955" width="1" height="4" fill="#c9cde0"/><text x="1127.9" y="968" font-size="11" fill="#dfe2ee" textLength="55.2" lengthAdjust="spacingAndGlyphs">23 Nov 2020</text><rect x="1229.4" y="955" width="1" height="4" fill="#c9cde0"/><text x="1230.2" y="968" font-size="11" fill="#dfe2ee" textLength="48.2" lengthAdjust="spacingAndGlyphs">8 Jan 2021</text><rect x="1331.8" y="955" width="1" height="4" fill="#c9cde0"/><text x="1332.6" y="968" font-size="11" fill="#dfe2ee" textLength="54.7" lengthAdjust="spacingAndGlyphs">23 Feb 2021</text><rect x="1434.2" y="955" width="1" height="4" fill="#c9cde0"/><text x="1435" y="968" font-size="11" fill="#dfe2ee" textLength="47.1" lengthAdjust="spacingAndGlyphs">8 Apr 2021</text><rect x="1536.6" y="955" width="1" height="4" fill="#c9cde0"/><text x="1537.4" y="968" font-size="11" fill="#dfe2ee" textLength="56.3" lengthAdjust="spacingAndGlyphs">24 May 2021</text><rect x="1638.9" y="955" width="1" height="4" fill="#c9cde0"/><text x="1639.7" y="968" font-size="11" fill="#dfe2ee" textLength="44.9" lengthAdjust="spacingAndGlyphs">7 Jul 2021</text><rect x="1741.3" y="955" width="1" height="4" fill="#c9cde0"/><text x="1742.1" y="968" font-size="11" fill="#dfe2ee" textLength="54.7" lengthAdjust="spacingAndGlyphs">20 Aug 2021</text><text x="43.6" y="17.5" font-size="10.5" fill="#dfe2ee" textLength="145" lengthAdjust="spacingAndGlyphs">EURUSD, Daily:&#160; Euro vs US Dollar</text><text x="4" y="710.8" font-size="10.5" fill="#dfe2ee" textLength="165" lengthAdjust="spacingAndGlyphs">MACD(12,26,1) -0.005109 -0.005109</text><text x="3.7" y="849.5" font-size="10.5" fill="#dfe2ee" textLength="109" lengthAdjust="spacingAndGlyphs">Stoch(20,3,3) 9.06 7.37</text><path d="M7 666.2l3.9 -7l3.9 7z" fill="#08800a"/><text x="18.5" y="666.2" font-size="10.6" fill="#08800a" textLength="126.5" lengthAdjust="spacingAndGlyphs">Monthly Change: 0.28%</text><path d="M7 678.1l3.9 -7l3.9 7z" fill="#08800a"/><text x="18.5" y="678.1" font-size="10.6" fill="#08800a" textLength="122.4" lengthAdjust="spacingAndGlyphs">Weekly Change: 0.15%</text><path d="M7 690l3.9 -7l3.9 7z" fill="#08800a"/><text x="18.5" y="690" font-size="10.6" fill="#08800a" textLength="110.2" lengthAdjust="spacingAndGlyphs">Daily Change: 0.15%</text></g><rect x="5" y="7" width="14" height="12" fill="#f4f0f4" stroke="#9aa0c0" stroke-width="0.6"/><rect x="5" y="7" width="14" height="2.2" fill="#8080ff"/><rect x="7" y="10" width="5" height="7.6" fill="#f0a0a0"/><rect x="13" y="10" width="4" height="7.6" fill="#a0a0f0"/><rect x="22.5" y="8" width="6.5" height="11" fill="#4040f0"/><rect x="29.5" y="8" width="7" height="11" fill="#d84040"/><rect x="27" y="8" width="5" height="3" fill="#c0c0c8"/><path d="M1453 3.5L1462.3 3.5L1457.6 9z" fill="#f4f4f8"/><path d="M2 950L2 955.5L7.5 955.5z" fill="#f4f4f8"/><g><rect x="1745" y="680.7" width="29" height="15" fill="#f0f0f4"/><rect x="1746.7" y="680.7" width="1.2" height="15" fill="#15225a"/><rect x="1749.8" y="680.7" width="1.2" height="15" fill="#15225a"/><rect x="1752.9" y="680.7" width="1.2" height="15" fill="#15225a"/><rect x="1756" y="680.7" width="1.2" height="15" fill="#15225a"/><rect x="1759.1" y="680.7" width="1.2" height="15" fill="#15225a"/><rect x="1762.2" y="680.7" width="1.2" height="15" fill="#15225a"/><rect x="1765.3" y="680.7" width="1.2" height="15" fill="#15225a"/><rect x="1768.4" y="680.7" width="1.2" height="15" fill="#15225a"/><rect x="1771.5" y="680.7" width="1.2" height="15" fill="#15225a"/><path d="M1774 680.7H1801L1804.5 687.2L1801 693.7H1774z" fill="#f6f6f8"/><text x="1776" y="690.8" font-size="9.6" fill="#222228" textLength="24.5" lengthAdjust="spacingAndGlyphs" font-family="Liberation Sans, Arial, sans-serif">19:30</text></g></svg></body></html>
